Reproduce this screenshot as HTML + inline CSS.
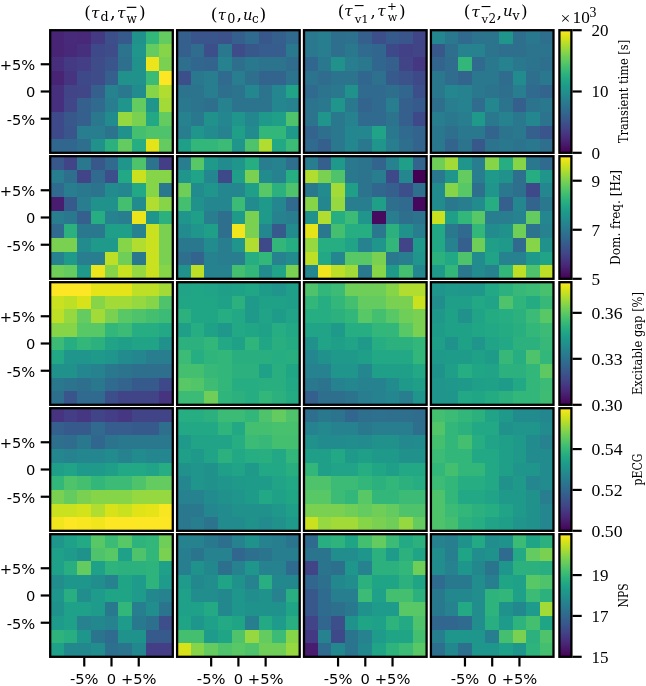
<!DOCTYPE html>
<html><head><meta charset="utf-8"><title>Sensitivity heatmaps</title>
<style>
html,body{margin:0;padding:0;background:#fff;}
body{width:646px;height:686px;overflow:hidden;}
svg{display:block;}
.sans{font-family:"DejaVu Sans","Liberation Sans",sans-serif;font-size:14.7px;fill:#000;}
.dserif{font-family:"DejaVu Serif","Liberation Serif",serif;fill:#000;}
.dcond{font-family:"DejaVu Serif Condensed","DejaVu Serif","Liberation Serif",serif;font-stretch:condensed;fill:#000;}
.serif{font-family:"Liberation Serif","DejaVu Serif",serif;fill:#000;}
</style></head><body>
<svg width="646" height="686" viewBox="0 0 646 686">
<defs><linearGradient id="vir" x1="0" y1="1" x2="0" y2="0"><stop offset="0.00" stop-color="#440154"/><stop offset="0.05" stop-color="#471365"/><stop offset="0.10" stop-color="#482475"/><stop offset="0.15" stop-color="#463480"/><stop offset="0.20" stop-color="#414487"/><stop offset="0.25" stop-color="#3b528b"/><stop offset="0.30" stop-color="#355f8d"/><stop offset="0.35" stop-color="#2f6c8e"/><stop offset="0.40" stop-color="#2a788e"/><stop offset="0.45" stop-color="#25848e"/><stop offset="0.50" stop-color="#21918c"/><stop offset="0.55" stop-color="#1e9c89"/><stop offset="0.60" stop-color="#22a884"/><stop offset="0.65" stop-color="#2fb47c"/><stop offset="0.70" stop-color="#44bf70"/><stop offset="0.75" stop-color="#5ec962"/><stop offset="0.80" stop-color="#7ad151"/><stop offset="0.85" stop-color="#9bd93c"/><stop offset="0.90" stop-color="#bddf26"/><stop offset="0.95" stop-color="#dfe318"/><stop offset="1.00" stop-color="#fde725"/></linearGradient></defs>
<rect x="0" y="0" width="646" height="686" fill="#fff"/>
<g shape-rendering="crispEdges"><rect x="50.20" y="30.20" width="13.92" height="13.92" fill="#482475"/><rect x="63.82" y="30.20" width="13.92" height="13.92" fill="#472a7a"/><rect x="77.44" y="30.20" width="13.92" height="13.92" fill="#482878"/><rect x="91.07" y="30.20" width="13.92" height="13.92" fill="#443a83"/><rect x="104.69" y="30.20" width="13.92" height="13.92" fill="#3c4f8a"/><rect x="118.31" y="30.20" width="13.92" height="13.92" fill="#375a8c"/><rect x="131.93" y="30.20" width="13.92" height="13.92" fill="#21918c"/><rect x="145.56" y="30.20" width="13.92" height="13.92" fill="#32b67a"/><rect x="159.18" y="30.20" width="13.92" height="13.92" fill="#63cb5f"/><rect x="50.20" y="43.82" width="13.92" height="13.92" fill="#482475"/><rect x="63.82" y="43.82" width="13.92" height="13.92" fill="#482878"/><rect x="77.44" y="43.82" width="13.92" height="13.92" fill="#46307e"/><rect x="91.07" y="43.82" width="13.92" height="13.92" fill="#3e4989"/><rect x="104.69" y="43.82" width="13.92" height="13.92" fill="#3e4c8a"/><rect x="118.31" y="43.82" width="13.92" height="13.92" fill="#2c738e"/><rect x="131.93" y="43.82" width="13.92" height="13.92" fill="#1f958b"/><rect x="145.56" y="43.82" width="13.92" height="13.92" fill="#63cb5f"/><rect x="159.18" y="43.82" width="13.92" height="13.92" fill="#86d549"/><rect x="50.20" y="57.44" width="13.92" height="13.92" fill="#472e7c"/><rect x="63.82" y="57.44" width="13.92" height="13.92" fill="#443a83"/><rect x="77.44" y="57.44" width="13.92" height="13.92" fill="#433e85"/><rect x="91.07" y="57.44" width="13.92" height="13.92" fill="#3e4c8a"/><rect x="104.69" y="57.44" width="13.92" height="13.92" fill="#3a548c"/><rect x="118.31" y="57.44" width="13.92" height="13.92" fill="#2e6f8e"/><rect x="131.93" y="57.44" width="13.92" height="13.92" fill="#21918c"/><rect x="145.56" y="57.44" width="13.92" height="13.92" fill="#ece51b"/><rect x="159.18" y="57.44" width="13.92" height="13.92" fill="#7ad151"/><rect x="50.20" y="71.07" width="13.92" height="13.92" fill="#482475"/><rect x="63.82" y="71.07" width="13.92" height="13.92" fill="#463480"/><rect x="77.44" y="71.07" width="13.92" height="13.92" fill="#3e4989"/><rect x="91.07" y="71.07" width="13.92" height="13.92" fill="#3e4c8a"/><rect x="104.69" y="71.07" width="13.92" height="13.92" fill="#355f8d"/><rect x="118.31" y="71.07" width="13.92" height="13.92" fill="#21918c"/><rect x="131.93" y="71.07" width="13.92" height="13.92" fill="#21918c"/><rect x="145.56" y="71.07" width="13.92" height="13.92" fill="#3bbb75"/><rect x="159.18" y="71.07" width="13.92" height="13.92" fill="#fde725"/><rect x="50.20" y="84.69" width="13.92" height="13.92" fill="#46307e"/><rect x="63.82" y="84.69" width="13.92" height="13.92" fill="#414487"/><rect x="77.44" y="84.69" width="13.92" height="13.92" fill="#404688"/><rect x="91.07" y="84.69" width="13.92" height="13.92" fill="#355f8d"/><rect x="104.69" y="84.69" width="13.92" height="13.92" fill="#26828e"/><rect x="118.31" y="84.69" width="13.92" height="13.92" fill="#2a788e"/><rect x="131.93" y="84.69" width="13.92" height="13.92" fill="#228b8d"/><rect x="145.56" y="84.69" width="13.92" height="13.92" fill="#86d549"/><rect x="159.18" y="84.69" width="13.92" height="13.92" fill="#b0dd2f"/><rect x="50.20" y="98.31" width="13.92" height="13.92" fill="#46307e"/><rect x="63.82" y="98.31" width="13.92" height="13.92" fill="#404688"/><rect x="77.44" y="98.31" width="13.92" height="13.92" fill="#355f8d"/><rect x="91.07" y="98.31" width="13.92" height="13.92" fill="#306a8e"/><rect x="104.69" y="98.31" width="13.92" height="13.92" fill="#287d8e"/><rect x="118.31" y="98.31" width="13.92" height="13.92" fill="#1f958b"/><rect x="131.93" y="98.31" width="13.92" height="13.92" fill="#63cb5f"/><rect x="145.56" y="98.31" width="13.92" height="13.92" fill="#1f958b"/><rect x="159.18" y="98.31" width="13.92" height="13.92" fill="#a2da37"/><rect x="50.20" y="111.93" width="13.92" height="13.92" fill="#3e4989"/><rect x="63.82" y="111.93" width="13.92" height="13.92" fill="#38588c"/><rect x="77.44" y="111.93" width="13.92" height="13.92" fill="#355f8d"/><rect x="91.07" y="111.93" width="13.92" height="13.92" fill="#2a788e"/><rect x="104.69" y="111.93" width="13.92" height="13.92" fill="#228b8d"/><rect x="118.31" y="111.93" width="13.92" height="13.92" fill="#95d840"/><rect x="131.93" y="111.93" width="13.92" height="13.92" fill="#7ad151"/><rect x="145.56" y="111.93" width="13.92" height="13.92" fill="#22a884"/><rect x="159.18" y="111.93" width="13.92" height="13.92" fill="#63cb5f"/><rect x="50.20" y="125.56" width="13.92" height="13.92" fill="#3e4989"/><rect x="63.82" y="125.56" width="13.92" height="13.92" fill="#3a548c"/><rect x="77.44" y="125.56" width="13.92" height="13.92" fill="#287d8e"/><rect x="91.07" y="125.56" width="13.92" height="13.92" fill="#287d8e"/><rect x="104.69" y="125.56" width="13.92" height="13.92" fill="#2c738e"/><rect x="118.31" y="125.56" width="13.92" height="13.92" fill="#21918c"/><rect x="131.93" y="125.56" width="13.92" height="13.92" fill="#44bf70"/><rect x="145.56" y="125.56" width="13.92" height="13.92" fill="#4ec36b"/><rect x="159.18" y="125.56" width="13.92" height="13.92" fill="#4ec36b"/><rect x="50.20" y="139.18" width="13.92" height="13.92" fill="#31678e"/><rect x="63.82" y="139.18" width="13.92" height="13.92" fill="#31678e"/><rect x="77.44" y="139.18" width="13.92" height="13.92" fill="#2e6f8e"/><rect x="91.07" y="139.18" width="13.92" height="13.92" fill="#21918c"/><rect x="104.69" y="139.18" width="13.92" height="13.92" fill="#2cb17e"/><rect x="118.31" y="139.18" width="13.92" height="13.92" fill="#63cb5f"/><rect x="131.93" y="139.18" width="13.92" height="13.92" fill="#26ad81"/><rect x="145.56" y="139.18" width="13.92" height="13.92" fill="#e5e419"/><rect x="159.18" y="139.18" width="13.92" height="13.92" fill="#63cb5f"/></g>
<rect x="50.20" y="30.20" width="122.60" height="122.60" fill="none" stroke="#000" stroke-width="2.3"/>
<line x1="49.20" y1="64.26" x2="40.70" y2="64.26" stroke="#000" stroke-width="2.2"/><line x1="49.20" y1="91.50" x2="40.70" y2="91.50" stroke="#000" stroke-width="2.2"/><line x1="49.20" y1="118.74" x2="40.70" y2="118.74" stroke="#000" stroke-width="2.2"/><g shape-rendering="crispEdges"><rect x="177.10" y="30.20" width="13.92" height="13.92" fill="#355f8d"/><rect x="190.72" y="30.20" width="13.92" height="13.92" fill="#3a548c"/><rect x="204.34" y="30.20" width="13.92" height="13.92" fill="#3a548c"/><rect x="217.97" y="30.20" width="13.92" height="13.92" fill="#3b528b"/><rect x="231.59" y="30.20" width="13.92" height="13.92" fill="#355f8d"/><rect x="245.21" y="30.20" width="13.92" height="13.92" fill="#306a8e"/><rect x="258.83" y="30.20" width="13.92" height="13.92" fill="#38588c"/><rect x="272.46" y="30.20" width="13.92" height="13.92" fill="#355f8d"/><rect x="286.08" y="30.20" width="13.92" height="13.92" fill="#306a8e"/><rect x="177.10" y="43.82" width="13.92" height="13.92" fill="#355f8d"/><rect x="190.72" y="43.82" width="13.92" height="13.92" fill="#2f6c8e"/><rect x="204.34" y="43.82" width="13.92" height="13.92" fill="#3c4f8a"/><rect x="217.97" y="43.82" width="13.92" height="13.92" fill="#2a788e"/><rect x="231.59" y="43.82" width="13.92" height="13.92" fill="#3e4c8a"/><rect x="245.21" y="43.82" width="13.92" height="13.92" fill="#38588c"/><rect x="258.83" y="43.82" width="13.92" height="13.92" fill="#365d8d"/><rect x="272.46" y="43.82" width="13.92" height="13.92" fill="#365d8d"/><rect x="286.08" y="43.82" width="13.92" height="13.92" fill="#2a788e"/><rect x="177.10" y="57.44" width="13.92" height="13.92" fill="#2e6f8e"/><rect x="190.72" y="57.44" width="13.92" height="13.92" fill="#31678e"/><rect x="204.34" y="57.44" width="13.92" height="13.92" fill="#32648e"/><rect x="217.97" y="57.44" width="13.92" height="13.92" fill="#26828e"/><rect x="231.59" y="57.44" width="13.92" height="13.92" fill="#2e6f8e"/><rect x="245.21" y="57.44" width="13.92" height="13.92" fill="#2a788e"/><rect x="258.83" y="57.44" width="13.92" height="13.92" fill="#2c738e"/><rect x="272.46" y="57.44" width="13.92" height="13.92" fill="#2c738e"/><rect x="286.08" y="57.44" width="13.92" height="13.92" fill="#2f6c8e"/><rect x="177.10" y="71.07" width="13.92" height="13.92" fill="#3c4f8a"/><rect x="190.72" y="71.07" width="13.92" height="13.92" fill="#2a788e"/><rect x="204.34" y="71.07" width="13.92" height="13.92" fill="#287d8e"/><rect x="217.97" y="71.07" width="13.92" height="13.92" fill="#306a8e"/><rect x="231.59" y="71.07" width="13.92" height="13.92" fill="#287d8e"/><rect x="245.21" y="71.07" width="13.92" height="13.92" fill="#2e6f8e"/><rect x="258.83" y="71.07" width="13.92" height="13.92" fill="#32648e"/><rect x="272.46" y="71.07" width="13.92" height="13.92" fill="#32648e"/><rect x="286.08" y="71.07" width="13.92" height="13.92" fill="#2c738e"/><rect x="177.10" y="84.69" width="13.92" height="13.92" fill="#2c738e"/><rect x="190.72" y="84.69" width="13.92" height="13.92" fill="#2c738e"/><rect x="204.34" y="84.69" width="13.92" height="13.92" fill="#287d8e"/><rect x="217.97" y="84.69" width="13.92" height="13.92" fill="#2e6f8e"/><rect x="231.59" y="84.69" width="13.92" height="13.92" fill="#2c738e"/><rect x="245.21" y="84.69" width="13.92" height="13.92" fill="#24868e"/><rect x="258.83" y="84.69" width="13.92" height="13.92" fill="#2c738e"/><rect x="272.46" y="84.69" width="13.92" height="13.92" fill="#24868e"/><rect x="286.08" y="84.69" width="13.92" height="13.92" fill="#20a386"/><rect x="177.10" y="98.31" width="13.92" height="13.92" fill="#2a788e"/><rect x="190.72" y="98.31" width="13.92" height="13.92" fill="#2c738e"/><rect x="204.34" y="98.31" width="13.92" height="13.92" fill="#2e6f8e"/><rect x="217.97" y="98.31" width="13.92" height="13.92" fill="#26828e"/><rect x="231.59" y="98.31" width="13.92" height="13.92" fill="#2c738e"/><rect x="245.21" y="98.31" width="13.92" height="13.92" fill="#2c738e"/><rect x="258.83" y="98.31" width="13.92" height="13.92" fill="#2c738e"/><rect x="272.46" y="98.31" width="13.92" height="13.92" fill="#24868e"/><rect x="286.08" y="98.31" width="13.92" height="13.92" fill="#26828e"/><rect x="177.10" y="111.93" width="13.92" height="13.92" fill="#26828e"/><rect x="190.72" y="111.93" width="13.92" height="13.92" fill="#2a788e"/><rect x="204.34" y="111.93" width="13.92" height="13.92" fill="#21918c"/><rect x="217.97" y="111.93" width="13.92" height="13.92" fill="#24868e"/><rect x="231.59" y="111.93" width="13.92" height="13.92" fill="#1f958b"/><rect x="245.21" y="111.93" width="13.92" height="13.92" fill="#24868e"/><rect x="258.83" y="111.93" width="13.92" height="13.92" fill="#1f9a8a"/><rect x="272.46" y="111.93" width="13.92" height="13.92" fill="#1f9f88"/><rect x="286.08" y="111.93" width="13.92" height="13.92" fill="#4ec36b"/><rect x="177.10" y="125.56" width="13.92" height="13.92" fill="#287d8e"/><rect x="190.72" y="125.56" width="13.92" height="13.92" fill="#1f958b"/><rect x="204.34" y="125.56" width="13.92" height="13.92" fill="#228b8d"/><rect x="217.97" y="125.56" width="13.92" height="13.92" fill="#26828e"/><rect x="231.59" y="125.56" width="13.92" height="13.92" fill="#1f9f88"/><rect x="245.21" y="125.56" width="13.92" height="13.92" fill="#228b8d"/><rect x="258.83" y="125.56" width="13.92" height="13.92" fill="#32b67a"/><rect x="272.46" y="125.56" width="13.92" height="13.92" fill="#32b67a"/><rect x="286.08" y="125.56" width="13.92" height="13.92" fill="#1f9a8a"/><rect x="177.10" y="139.18" width="13.92" height="13.92" fill="#1f9f88"/><rect x="190.72" y="139.18" width="13.92" height="13.92" fill="#32b67a"/><rect x="204.34" y="139.18" width="13.92" height="13.92" fill="#32b67a"/><rect x="217.97" y="139.18" width="13.92" height="13.92" fill="#3bbb75"/><rect x="231.59" y="139.18" width="13.92" height="13.92" fill="#1f958b"/><rect x="245.21" y="139.18" width="13.92" height="13.92" fill="#4ec36b"/><rect x="258.83" y="139.18" width="13.92" height="13.92" fill="#b0dd2f"/><rect x="272.46" y="139.18" width="13.92" height="13.92" fill="#22a884"/><rect x="286.08" y="139.18" width="13.92" height="13.92" fill="#3bbb75"/></g>
<rect x="177.10" y="30.20" width="122.60" height="122.60" fill="none" stroke="#000" stroke-width="2.3"/>
<g shape-rendering="crispEdges"><rect x="304.00" y="30.20" width="13.92" height="13.92" fill="#2a788e"/><rect x="317.62" y="30.20" width="13.92" height="13.92" fill="#287d8e"/><rect x="331.24" y="30.20" width="13.92" height="13.92" fill="#2e6f8e"/><rect x="344.87" y="30.20" width="13.92" height="13.92" fill="#2d718e"/><rect x="358.49" y="30.20" width="13.92" height="13.92" fill="#355f8d"/><rect x="372.11" y="30.20" width="13.92" height="13.92" fill="#3c4f8a"/><rect x="385.73" y="30.20" width="13.92" height="13.92" fill="#375a8c"/><rect x="399.36" y="30.20" width="13.92" height="13.92" fill="#3a548c"/><rect x="412.98" y="30.20" width="13.92" height="13.92" fill="#414487"/><rect x="304.00" y="43.82" width="13.92" height="13.92" fill="#2a788e"/><rect x="317.62" y="43.82" width="13.92" height="13.92" fill="#287d8e"/><rect x="331.24" y="43.82" width="13.92" height="13.92" fill="#2e6f8e"/><rect x="344.87" y="43.82" width="13.92" height="13.92" fill="#2a788e"/><rect x="358.49" y="43.82" width="13.92" height="13.92" fill="#306a8e"/><rect x="372.11" y="43.82" width="13.92" height="13.92" fill="#31678e"/><rect x="385.73" y="43.82" width="13.92" height="13.92" fill="#3e4989"/><rect x="399.36" y="43.82" width="13.92" height="13.92" fill="#424086"/><rect x="412.98" y="43.82" width="13.92" height="13.92" fill="#414487"/><rect x="304.00" y="57.44" width="13.92" height="13.92" fill="#31678e"/><rect x="317.62" y="57.44" width="13.92" height="13.92" fill="#2a788e"/><rect x="331.24" y="57.44" width="13.92" height="13.92" fill="#21918c"/><rect x="344.87" y="57.44" width="13.92" height="13.92" fill="#287d8e"/><rect x="358.49" y="57.44" width="13.92" height="13.92" fill="#2a788e"/><rect x="372.11" y="57.44" width="13.92" height="13.92" fill="#31678e"/><rect x="385.73" y="57.44" width="13.92" height="13.92" fill="#355f8d"/><rect x="399.36" y="57.44" width="13.92" height="13.92" fill="#414487"/><rect x="412.98" y="57.44" width="13.92" height="13.92" fill="#453781"/><rect x="304.00" y="71.07" width="13.92" height="13.92" fill="#2c738e"/><rect x="317.62" y="71.07" width="13.92" height="13.92" fill="#2f6c8e"/><rect x="331.24" y="71.07" width="13.92" height="13.92" fill="#2c738e"/><rect x="344.87" y="71.07" width="13.92" height="13.92" fill="#2c738e"/><rect x="358.49" y="71.07" width="13.92" height="13.92" fill="#31678e"/><rect x="372.11" y="71.07" width="13.92" height="13.92" fill="#2d718e"/><rect x="385.73" y="71.07" width="13.92" height="13.92" fill="#375a8c"/><rect x="399.36" y="71.07" width="13.92" height="13.92" fill="#3b528b"/><rect x="412.98" y="71.07" width="13.92" height="13.92" fill="#3e4989"/><rect x="304.00" y="84.69" width="13.92" height="13.92" fill="#306a8e"/><rect x="317.62" y="84.69" width="13.92" height="13.92" fill="#2c738e"/><rect x="331.24" y="84.69" width="13.92" height="13.92" fill="#2a788e"/><rect x="344.87" y="84.69" width="13.92" height="13.92" fill="#21918c"/><rect x="358.49" y="84.69" width="13.92" height="13.92" fill="#306a8e"/><rect x="372.11" y="84.69" width="13.92" height="13.92" fill="#306a8e"/><rect x="385.73" y="84.69" width="13.92" height="13.92" fill="#2e6f8e"/><rect x="399.36" y="84.69" width="13.92" height="13.92" fill="#31678e"/><rect x="412.98" y="84.69" width="13.92" height="13.92" fill="#3c4f8a"/><rect x="304.00" y="98.31" width="13.92" height="13.92" fill="#2c738e"/><rect x="317.62" y="98.31" width="13.92" height="13.92" fill="#2a788e"/><rect x="331.24" y="98.31" width="13.92" height="13.92" fill="#1f958b"/><rect x="344.87" y="98.31" width="13.92" height="13.92" fill="#2a788e"/><rect x="358.49" y="98.31" width="13.92" height="13.92" fill="#32648e"/><rect x="372.11" y="98.31" width="13.92" height="13.92" fill="#306a8e"/><rect x="385.73" y="98.31" width="13.92" height="13.92" fill="#287d8e"/><rect x="399.36" y="98.31" width="13.92" height="13.92" fill="#355f8d"/><rect x="412.98" y="98.31" width="13.92" height="13.92" fill="#375a8c"/><rect x="304.00" y="111.93" width="13.92" height="13.92" fill="#2c738e"/><rect x="317.62" y="111.93" width="13.92" height="13.92" fill="#1f958b"/><rect x="331.24" y="111.93" width="13.92" height="13.92" fill="#2a788e"/><rect x="344.87" y="111.93" width="13.92" height="13.92" fill="#26828e"/><rect x="358.49" y="111.93" width="13.92" height="13.92" fill="#306a8e"/><rect x="372.11" y="111.93" width="13.92" height="13.92" fill="#306a8e"/><rect x="385.73" y="111.93" width="13.92" height="13.92" fill="#2c738e"/><rect x="399.36" y="111.93" width="13.92" height="13.92" fill="#355f8d"/><rect x="412.98" y="111.93" width="13.92" height="13.92" fill="#3e4989"/><rect x="304.00" y="125.56" width="13.92" height="13.92" fill="#32648e"/><rect x="317.62" y="125.56" width="13.92" height="13.92" fill="#2e6f8e"/><rect x="331.24" y="125.56" width="13.92" height="13.92" fill="#2a788e"/><rect x="344.87" y="125.56" width="13.92" height="13.92" fill="#24868e"/><rect x="358.49" y="125.56" width="13.92" height="13.92" fill="#24868e"/><rect x="372.11" y="125.56" width="13.92" height="13.92" fill="#20a386"/><rect x="385.73" y="125.56" width="13.92" height="13.92" fill="#2a788e"/><rect x="399.36" y="125.56" width="13.92" height="13.92" fill="#306a8e"/><rect x="412.98" y="125.56" width="13.92" height="13.92" fill="#32648e"/><rect x="304.00" y="139.18" width="13.92" height="13.92" fill="#306a8e"/><rect x="317.62" y="139.18" width="13.92" height="13.92" fill="#355f8d"/><rect x="331.24" y="139.18" width="13.92" height="13.92" fill="#2a788e"/><rect x="344.87" y="139.18" width="13.92" height="13.92" fill="#24868e"/><rect x="358.49" y="139.18" width="13.92" height="13.92" fill="#2a788e"/><rect x="372.11" y="139.18" width="13.92" height="13.92" fill="#1f958b"/><rect x="385.73" y="139.18" width="13.92" height="13.92" fill="#287d8e"/><rect x="399.36" y="139.18" width="13.92" height="13.92" fill="#2e6f8e"/><rect x="412.98" y="139.18" width="13.92" height="13.92" fill="#32648e"/></g>
<rect x="304.00" y="30.20" width="122.60" height="122.60" fill="none" stroke="#000" stroke-width="2.3"/>
<g shape-rendering="crispEdges"><rect x="430.90" y="30.20" width="13.92" height="13.92" fill="#24868e"/><rect x="444.52" y="30.20" width="13.92" height="13.92" fill="#2a788e"/><rect x="458.14" y="30.20" width="13.92" height="13.92" fill="#306a8e"/><rect x="471.77" y="30.20" width="13.92" height="13.92" fill="#2c738e"/><rect x="485.39" y="30.20" width="13.92" height="13.92" fill="#2c738e"/><rect x="499.01" y="30.20" width="13.92" height="13.92" fill="#1f958b"/><rect x="512.63" y="30.20" width="13.92" height="13.92" fill="#2e6f8e"/><rect x="526.26" y="30.20" width="13.92" height="13.92" fill="#2a788e"/><rect x="539.88" y="30.20" width="13.92" height="13.92" fill="#2e6f8e"/><rect x="430.90" y="43.82" width="13.92" height="13.92" fill="#38588c"/><rect x="444.52" y="43.82" width="13.92" height="13.92" fill="#2e6f8e"/><rect x="458.14" y="43.82" width="13.92" height="13.92" fill="#26828e"/><rect x="471.77" y="43.82" width="13.92" height="13.92" fill="#26828e"/><rect x="485.39" y="43.82" width="13.92" height="13.92" fill="#2c738e"/><rect x="499.01" y="43.82" width="13.92" height="13.92" fill="#2e6f8e"/><rect x="512.63" y="43.82" width="13.92" height="13.92" fill="#2e6f8e"/><rect x="526.26" y="43.82" width="13.92" height="13.92" fill="#2c738e"/><rect x="539.88" y="43.82" width="13.92" height="13.92" fill="#2c738e"/><rect x="430.90" y="57.44" width="13.92" height="13.92" fill="#32648e"/><rect x="444.52" y="57.44" width="13.92" height="13.92" fill="#2f6c8e"/><rect x="458.14" y="57.44" width="13.92" height="13.92" fill="#32b67a"/><rect x="471.77" y="57.44" width="13.92" height="13.92" fill="#306a8e"/><rect x="485.39" y="57.44" width="13.92" height="13.92" fill="#2a788e"/><rect x="499.01" y="57.44" width="13.92" height="13.92" fill="#26828e"/><rect x="512.63" y="57.44" width="13.92" height="13.92" fill="#2a788e"/><rect x="526.26" y="57.44" width="13.92" height="13.92" fill="#2c738e"/><rect x="539.88" y="57.44" width="13.92" height="13.92" fill="#2e6f8e"/><rect x="430.90" y="71.07" width="13.92" height="13.92" fill="#2a788e"/><rect x="444.52" y="71.07" width="13.92" height="13.92" fill="#2f6c8e"/><rect x="458.14" y="71.07" width="13.92" height="13.92" fill="#32648e"/><rect x="471.77" y="71.07" width="13.92" height="13.92" fill="#2a788e"/><rect x="485.39" y="71.07" width="13.92" height="13.92" fill="#2a788e"/><rect x="499.01" y="71.07" width="13.92" height="13.92" fill="#2f6c8e"/><rect x="512.63" y="71.07" width="13.92" height="13.92" fill="#228b8d"/><rect x="526.26" y="71.07" width="13.92" height="13.92" fill="#2e6f8e"/><rect x="539.88" y="71.07" width="13.92" height="13.92" fill="#2a788e"/><rect x="430.90" y="84.69" width="13.92" height="13.92" fill="#2a788e"/><rect x="444.52" y="84.69" width="13.92" height="13.92" fill="#24868e"/><rect x="458.14" y="84.69" width="13.92" height="13.92" fill="#26828e"/><rect x="471.77" y="84.69" width="13.92" height="13.92" fill="#2a788e"/><rect x="485.39" y="84.69" width="13.92" height="13.92" fill="#2c738e"/><rect x="499.01" y="84.69" width="13.92" height="13.92" fill="#2e6f8e"/><rect x="512.63" y="84.69" width="13.92" height="13.92" fill="#287d8e"/><rect x="526.26" y="84.69" width="13.92" height="13.92" fill="#306a8e"/><rect x="539.88" y="84.69" width="13.92" height="13.92" fill="#32648e"/><rect x="430.90" y="98.31" width="13.92" height="13.92" fill="#2e6f8e"/><rect x="444.52" y="98.31" width="13.92" height="13.92" fill="#287d8e"/><rect x="458.14" y="98.31" width="13.92" height="13.92" fill="#26828e"/><rect x="471.77" y="98.31" width="13.92" height="13.92" fill="#2f6c8e"/><rect x="485.39" y="98.31" width="13.92" height="13.92" fill="#24868e"/><rect x="499.01" y="98.31" width="13.92" height="13.92" fill="#2c738e"/><rect x="512.63" y="98.31" width="13.92" height="13.92" fill="#355f8d"/><rect x="526.26" y="98.31" width="13.92" height="13.92" fill="#2c738e"/><rect x="539.88" y="98.31" width="13.92" height="13.92" fill="#2a788e"/><rect x="430.90" y="111.93" width="13.92" height="13.92" fill="#287d8e"/><rect x="444.52" y="111.93" width="13.92" height="13.92" fill="#2a788e"/><rect x="458.14" y="111.93" width="13.92" height="13.92" fill="#287d8e"/><rect x="471.77" y="111.93" width="13.92" height="13.92" fill="#1f9a8a"/><rect x="485.39" y="111.93" width="13.92" height="13.92" fill="#2a788e"/><rect x="499.01" y="111.93" width="13.92" height="13.92" fill="#26828e"/><rect x="512.63" y="111.93" width="13.92" height="13.92" fill="#2a788e"/><rect x="526.26" y="111.93" width="13.92" height="13.92" fill="#24868e"/><rect x="539.88" y="111.93" width="13.92" height="13.92" fill="#2c738e"/><rect x="430.90" y="125.56" width="13.92" height="13.92" fill="#2a788e"/><rect x="444.52" y="125.56" width="13.92" height="13.92" fill="#2e6f8e"/><rect x="458.14" y="125.56" width="13.92" height="13.92" fill="#2a788e"/><rect x="471.77" y="125.56" width="13.92" height="13.92" fill="#2a788e"/><rect x="485.39" y="125.56" width="13.92" height="13.92" fill="#32648e"/><rect x="499.01" y="125.56" width="13.92" height="13.92" fill="#2c738e"/><rect x="512.63" y="125.56" width="13.92" height="13.92" fill="#2a788e"/><rect x="526.26" y="125.56" width="13.92" height="13.92" fill="#355f8d"/><rect x="539.88" y="125.56" width="13.92" height="13.92" fill="#3a548c"/><rect x="430.90" y="139.18" width="13.92" height="13.92" fill="#2a788e"/><rect x="444.52" y="139.18" width="13.92" height="13.92" fill="#32648e"/><rect x="458.14" y="139.18" width="13.92" height="13.92" fill="#2c738e"/><rect x="471.77" y="139.18" width="13.92" height="13.92" fill="#38588c"/><rect x="485.39" y="139.18" width="13.92" height="13.92" fill="#2c738e"/><rect x="499.01" y="139.18" width="13.92" height="13.92" fill="#2a788e"/><rect x="512.63" y="139.18" width="13.92" height="13.92" fill="#2c738e"/><rect x="526.26" y="139.18" width="13.92" height="13.92" fill="#2a788e"/><rect x="539.88" y="139.18" width="13.92" height="13.92" fill="#2e6f8e"/></g>
<rect x="430.90" y="30.20" width="122.60" height="122.60" fill="none" stroke="#000" stroke-width="2.3"/>
<rect x="559.40" y="30.20" width="12.00" height="122.60" fill="url(#vir)" stroke="#000" stroke-width="2.3"/>
<g shape-rendering="crispEdges"><rect x="50.20" y="156.20" width="13.92" height="13.92" fill="#38588c"/><rect x="63.82" y="156.20" width="13.92" height="13.92" fill="#414487"/><rect x="77.44" y="156.20" width="13.92" height="13.92" fill="#2a788e"/><rect x="91.07" y="156.20" width="13.92" height="13.92" fill="#38588c"/><rect x="104.69" y="156.20" width="13.92" height="13.92" fill="#306a8e"/><rect x="118.31" y="156.20" width="13.92" height="13.92" fill="#1f958b"/><rect x="131.93" y="156.20" width="13.92" height="13.92" fill="#4ec36b"/><rect x="145.56" y="156.20" width="13.92" height="13.92" fill="#2c738e"/><rect x="159.18" y="156.20" width="13.92" height="13.92" fill="#433e85"/><rect x="50.20" y="169.82" width="13.92" height="13.92" fill="#287d8e"/><rect x="63.82" y="169.82" width="13.92" height="13.92" fill="#2e6f8e"/><rect x="77.44" y="169.82" width="13.92" height="13.92" fill="#414487"/><rect x="91.07" y="169.82" width="13.92" height="13.92" fill="#306a8e"/><rect x="104.69" y="169.82" width="13.92" height="13.92" fill="#3c4f8a"/><rect x="118.31" y="169.82" width="13.92" height="13.92" fill="#22a884"/><rect x="131.93" y="169.82" width="13.92" height="13.92" fill="#cae11f"/><rect x="145.56" y="169.82" width="13.92" height="13.92" fill="#86d549"/><rect x="159.18" y="169.82" width="13.92" height="13.92" fill="#86d549"/><rect x="50.20" y="183.44" width="13.92" height="13.92" fill="#306a8e"/><rect x="63.82" y="183.44" width="13.92" height="13.92" fill="#287d8e"/><rect x="77.44" y="183.44" width="13.92" height="13.92" fill="#2a788e"/><rect x="91.07" y="183.44" width="13.92" height="13.92" fill="#2c738e"/><rect x="104.69" y="183.44" width="13.92" height="13.92" fill="#228b8d"/><rect x="118.31" y="183.44" width="13.92" height="13.92" fill="#24868e"/><rect x="131.93" y="183.44" width="13.92" height="13.92" fill="#22a884"/><rect x="145.56" y="183.44" width="13.92" height="13.92" fill="#86d549"/><rect x="159.18" y="183.44" width="13.92" height="13.92" fill="#2a788e"/><rect x="50.20" y="197.07" width="13.92" height="13.92" fill="#481d6f"/><rect x="63.82" y="197.07" width="13.92" height="13.92" fill="#375a8c"/><rect x="77.44" y="197.07" width="13.92" height="13.92" fill="#287d8e"/><rect x="91.07" y="197.07" width="13.92" height="13.92" fill="#21918c"/><rect x="104.69" y="197.07" width="13.92" height="13.92" fill="#21918c"/><rect x="118.31" y="197.07" width="13.92" height="13.92" fill="#44bf70"/><rect x="131.93" y="197.07" width="13.92" height="13.92" fill="#228b8d"/><rect x="145.56" y="197.07" width="13.92" height="13.92" fill="#b0dd2f"/><rect x="159.18" y="197.07" width="13.92" height="13.92" fill="#86d549"/><rect x="50.20" y="210.69" width="13.92" height="13.92" fill="#287d8e"/><rect x="63.82" y="210.69" width="13.92" height="13.92" fill="#2a788e"/><rect x="77.44" y="210.69" width="13.92" height="13.92" fill="#355f8d"/><rect x="91.07" y="210.69" width="13.92" height="13.92" fill="#26ad81"/><rect x="104.69" y="210.69" width="13.92" height="13.92" fill="#26828e"/><rect x="118.31" y="210.69" width="13.92" height="13.92" fill="#287d8e"/><rect x="131.93" y="210.69" width="13.92" height="13.92" fill="#ece51b"/><rect x="145.56" y="210.69" width="13.92" height="13.92" fill="#1f958b"/><rect x="159.18" y="210.69" width="13.92" height="13.92" fill="#2cb17e"/><rect x="50.20" y="224.31" width="13.92" height="13.92" fill="#306a8e"/><rect x="63.82" y="224.31" width="13.92" height="13.92" fill="#2cb17e"/><rect x="77.44" y="224.31" width="13.92" height="13.92" fill="#2a788e"/><rect x="91.07" y="224.31" width="13.92" height="13.92" fill="#2a788e"/><rect x="104.69" y="224.31" width="13.92" height="13.92" fill="#1f9f88"/><rect x="118.31" y="224.31" width="13.92" height="13.92" fill="#1f9f88"/><rect x="131.93" y="224.31" width="13.92" height="13.92" fill="#26828e"/><rect x="145.56" y="224.31" width="13.92" height="13.92" fill="#cae11f"/><rect x="159.18" y="224.31" width="13.92" height="13.92" fill="#7ad151"/><rect x="50.20" y="237.93" width="13.92" height="13.92" fill="#7ad151"/><rect x="63.82" y="237.93" width="13.92" height="13.92" fill="#7ad151"/><rect x="77.44" y="237.93" width="13.92" height="13.92" fill="#228b8d"/><rect x="91.07" y="237.93" width="13.92" height="13.92" fill="#1f9a8a"/><rect x="104.69" y="237.93" width="13.92" height="13.92" fill="#1f9a8a"/><rect x="118.31" y="237.93" width="13.92" height="13.92" fill="#86d549"/><rect x="131.93" y="237.93" width="13.92" height="13.92" fill="#b0dd2f"/><rect x="145.56" y="237.93" width="13.92" height="13.92" fill="#cae11f"/><rect x="159.18" y="237.93" width="13.92" height="13.92" fill="#7ad151"/><rect x="50.20" y="251.56" width="13.92" height="13.92" fill="#26828e"/><rect x="63.82" y="251.56" width="13.92" height="13.92" fill="#1f9a8a"/><rect x="77.44" y="251.56" width="13.92" height="13.92" fill="#287d8e"/><rect x="91.07" y="251.56" width="13.92" height="13.92" fill="#287d8e"/><rect x="104.69" y="251.56" width="13.92" height="13.92" fill="#bddf26"/><rect x="118.31" y="251.56" width="13.92" height="13.92" fill="#6ece58"/><rect x="131.93" y="251.56" width="13.92" height="13.92" fill="#2a788e"/><rect x="145.56" y="251.56" width="13.92" height="13.92" fill="#cae11f"/><rect x="159.18" y="251.56" width="13.92" height="13.92" fill="#7ad151"/><rect x="50.20" y="265.18" width="13.92" height="13.92" fill="#6ece58"/><rect x="63.82" y="265.18" width="13.92" height="13.92" fill="#63cb5f"/><rect x="77.44" y="265.18" width="13.92" height="13.92" fill="#1f9a8a"/><rect x="91.07" y="265.18" width="13.92" height="13.92" fill="#ece51b"/><rect x="104.69" y="265.18" width="13.92" height="13.92" fill="#86d549"/><rect x="118.31" y="265.18" width="13.92" height="13.92" fill="#cae11f"/><rect x="131.93" y="265.18" width="13.92" height="13.92" fill="#95d840"/><rect x="145.56" y="265.18" width="13.92" height="13.92" fill="#cae11f"/><rect x="159.18" y="265.18" width="13.92" height="13.92" fill="#86d549"/></g>
<rect x="50.20" y="156.20" width="122.60" height="122.60" fill="none" stroke="#000" stroke-width="2.3"/>
<line x1="49.20" y1="190.26" x2="40.70" y2="190.26" stroke="#000" stroke-width="2.2"/><line x1="49.20" y1="217.50" x2="40.70" y2="217.50" stroke="#000" stroke-width="2.2"/><line x1="49.20" y1="244.74" x2="40.70" y2="244.74" stroke="#000" stroke-width="2.2"/><g shape-rendering="crispEdges"><rect x="177.10" y="156.20" width="13.92" height="13.92" fill="#287d8e"/><rect x="190.72" y="156.20" width="13.92" height="13.92" fill="#58c765"/><rect x="204.34" y="156.20" width="13.92" height="13.92" fill="#1f9a8a"/><rect x="217.97" y="156.20" width="13.92" height="13.92" fill="#228b8d"/><rect x="231.59" y="156.20" width="13.92" height="13.92" fill="#1f958b"/><rect x="245.21" y="156.20" width="13.92" height="13.92" fill="#26ad81"/><rect x="258.83" y="156.20" width="13.92" height="13.92" fill="#287d8e"/><rect x="272.46" y="156.20" width="13.92" height="13.92" fill="#26828e"/><rect x="286.08" y="156.20" width="13.92" height="13.92" fill="#2e6f8e"/><rect x="177.10" y="169.82" width="13.92" height="13.92" fill="#1f958b"/><rect x="190.72" y="169.82" width="13.92" height="13.92" fill="#20a386"/><rect x="204.34" y="169.82" width="13.92" height="13.92" fill="#24868e"/><rect x="217.97" y="169.82" width="13.92" height="13.92" fill="#3e4989"/><rect x="231.59" y="169.82" width="13.92" height="13.92" fill="#1f9f88"/><rect x="245.21" y="169.82" width="13.92" height="13.92" fill="#7ad151"/><rect x="258.83" y="169.82" width="13.92" height="13.92" fill="#228b8d"/><rect x="272.46" y="169.82" width="13.92" height="13.92" fill="#26828e"/><rect x="286.08" y="169.82" width="13.92" height="13.92" fill="#26ad81"/><rect x="177.10" y="183.44" width="13.92" height="13.92" fill="#6ece58"/><rect x="190.72" y="183.44" width="13.92" height="13.92" fill="#228b8d"/><rect x="204.34" y="183.44" width="13.92" height="13.92" fill="#1f958b"/><rect x="217.97" y="183.44" width="13.92" height="13.92" fill="#24868e"/><rect x="231.59" y="183.44" width="13.92" height="13.92" fill="#24868e"/><rect x="245.21" y="183.44" width="13.92" height="13.92" fill="#1f9f88"/><rect x="258.83" y="183.44" width="13.92" height="13.92" fill="#58c765"/><rect x="272.46" y="183.44" width="13.92" height="13.92" fill="#2cb17e"/><rect x="286.08" y="183.44" width="13.92" height="13.92" fill="#4ec36b"/><rect x="177.10" y="197.07" width="13.92" height="13.92" fill="#44bf70"/><rect x="190.72" y="197.07" width="13.92" height="13.92" fill="#21918c"/><rect x="204.34" y="197.07" width="13.92" height="13.92" fill="#24868e"/><rect x="217.97" y="197.07" width="13.92" height="13.92" fill="#24868e"/><rect x="231.59" y="197.07" width="13.92" height="13.92" fill="#3bbb75"/><rect x="245.21" y="197.07" width="13.92" height="13.92" fill="#228b8d"/><rect x="258.83" y="197.07" width="13.92" height="13.92" fill="#1f9a8a"/><rect x="272.46" y="197.07" width="13.92" height="13.92" fill="#24868e"/><rect x="286.08" y="197.07" width="13.92" height="13.92" fill="#306a8e"/><rect x="177.10" y="210.69" width="13.92" height="13.92" fill="#1f958b"/><rect x="190.72" y="210.69" width="13.92" height="13.92" fill="#1f9f88"/><rect x="204.34" y="210.69" width="13.92" height="13.92" fill="#287d8e"/><rect x="217.97" y="210.69" width="13.92" height="13.92" fill="#2e6f8e"/><rect x="231.59" y="210.69" width="13.92" height="13.92" fill="#1f9a8a"/><rect x="245.21" y="210.69" width="13.92" height="13.92" fill="#7ad151"/><rect x="258.83" y="210.69" width="13.92" height="13.92" fill="#1f9a8a"/><rect x="272.46" y="210.69" width="13.92" height="13.92" fill="#26828e"/><rect x="286.08" y="210.69" width="13.92" height="13.92" fill="#287d8e"/><rect x="177.10" y="224.31" width="13.92" height="13.92" fill="#228b8d"/><rect x="190.72" y="224.31" width="13.92" height="13.92" fill="#1f958b"/><rect x="204.34" y="224.31" width="13.92" height="13.92" fill="#1f9f88"/><rect x="217.97" y="224.31" width="13.92" height="13.92" fill="#2e6f8e"/><rect x="231.59" y="224.31" width="13.92" height="13.92" fill="#f1e51d"/><rect x="245.21" y="224.31" width="13.92" height="13.92" fill="#7ad151"/><rect x="258.83" y="224.31" width="13.92" height="13.92" fill="#24868e"/><rect x="272.46" y="224.31" width="13.92" height="13.92" fill="#375a8c"/><rect x="286.08" y="224.31" width="13.92" height="13.92" fill="#228b8d"/><rect x="177.10" y="237.93" width="13.92" height="13.92" fill="#2a788e"/><rect x="190.72" y="237.93" width="13.92" height="13.92" fill="#2a788e"/><rect x="204.34" y="237.93" width="13.92" height="13.92" fill="#228b8d"/><rect x="217.97" y="237.93" width="13.92" height="13.92" fill="#287d8e"/><rect x="231.59" y="237.93" width="13.92" height="13.92" fill="#1f958b"/><rect x="245.21" y="237.93" width="13.92" height="13.92" fill="#b0dd2f"/><rect x="258.83" y="237.93" width="13.92" height="13.92" fill="#3e4989"/><rect x="272.46" y="237.93" width="13.92" height="13.92" fill="#32b67a"/><rect x="286.08" y="237.93" width="13.92" height="13.92" fill="#26ad81"/><rect x="177.10" y="251.56" width="13.92" height="13.92" fill="#2e6f8e"/><rect x="190.72" y="251.56" width="13.92" height="13.92" fill="#32648e"/><rect x="204.34" y="251.56" width="13.92" height="13.92" fill="#26828e"/><rect x="217.97" y="251.56" width="13.92" height="13.92" fill="#287d8e"/><rect x="231.59" y="251.56" width="13.92" height="13.92" fill="#287d8e"/><rect x="245.21" y="251.56" width="13.92" height="13.92" fill="#26ad81"/><rect x="258.83" y="251.56" width="13.92" height="13.92" fill="#32b67a"/><rect x="272.46" y="251.56" width="13.92" height="13.92" fill="#26828e"/><rect x="286.08" y="251.56" width="13.92" height="13.92" fill="#228b8d"/><rect x="177.10" y="265.18" width="13.92" height="13.92" fill="#21918c"/><rect x="190.72" y="265.18" width="13.92" height="13.92" fill="#bddf26"/><rect x="204.34" y="265.18" width="13.92" height="13.92" fill="#26828e"/><rect x="217.97" y="265.18" width="13.92" height="13.92" fill="#26828e"/><rect x="231.59" y="265.18" width="13.92" height="13.92" fill="#44bf70"/><rect x="245.21" y="265.18" width="13.92" height="13.92" fill="#32b67a"/><rect x="258.83" y="265.18" width="13.92" height="13.92" fill="#228b8d"/><rect x="272.46" y="265.18" width="13.92" height="13.92" fill="#20a386"/><rect x="286.08" y="265.18" width="13.92" height="13.92" fill="#7ad151"/></g>
<rect x="177.10" y="156.20" width="122.60" height="122.60" fill="none" stroke="#000" stroke-width="2.3"/>
<g shape-rendering="crispEdges"><rect x="304.00" y="156.20" width="13.92" height="13.92" fill="#287d8e"/><rect x="317.62" y="156.20" width="13.92" height="13.92" fill="#355f8d"/><rect x="331.24" y="156.20" width="13.92" height="13.92" fill="#1f9a8a"/><rect x="344.87" y="156.20" width="13.92" height="13.92" fill="#2a788e"/><rect x="358.49" y="156.20" width="13.92" height="13.92" fill="#2c738e"/><rect x="372.11" y="156.20" width="13.92" height="13.92" fill="#32648e"/><rect x="385.73" y="156.20" width="13.92" height="13.92" fill="#26828e"/><rect x="399.36" y="156.20" width="13.92" height="13.92" fill="#1f9f88"/><rect x="412.98" y="156.20" width="13.92" height="13.92" fill="#32648e"/><rect x="304.00" y="169.82" width="13.92" height="13.92" fill="#b0dd2f"/><rect x="317.62" y="169.82" width="13.92" height="13.92" fill="#7ad151"/><rect x="331.24" y="169.82" width="13.92" height="13.92" fill="#4ec36b"/><rect x="344.87" y="169.82" width="13.92" height="13.92" fill="#2a788e"/><rect x="358.49" y="169.82" width="13.92" height="13.92" fill="#2c738e"/><rect x="372.11" y="169.82" width="13.92" height="13.92" fill="#287d8e"/><rect x="385.73" y="169.82" width="13.92" height="13.92" fill="#3e4989"/><rect x="399.36" y="169.82" width="13.92" height="13.92" fill="#24868e"/><rect x="412.98" y="169.82" width="13.92" height="13.92" fill="#440154"/><rect x="304.00" y="183.44" width="13.92" height="13.92" fill="#2a788e"/><rect x="317.62" y="183.44" width="13.92" height="13.92" fill="#228b8d"/><rect x="331.24" y="183.44" width="13.92" height="13.92" fill="#a2da37"/><rect x="344.87" y="183.44" width="13.92" height="13.92" fill="#1f9f88"/><rect x="358.49" y="183.44" width="13.92" height="13.92" fill="#2c738e"/><rect x="372.11" y="183.44" width="13.92" height="13.92" fill="#31678e"/><rect x="385.73" y="183.44" width="13.92" height="13.92" fill="#355f8d"/><rect x="399.36" y="183.44" width="13.92" height="13.92" fill="#3c4f8a"/><rect x="412.98" y="183.44" width="13.92" height="13.92" fill="#2e6f8e"/><rect x="304.00" y="197.07" width="13.92" height="13.92" fill="#86d549"/><rect x="317.62" y="197.07" width="13.92" height="13.92" fill="#24868e"/><rect x="331.24" y="197.07" width="13.92" height="13.92" fill="#95d840"/><rect x="344.87" y="197.07" width="13.92" height="13.92" fill="#287d8e"/><rect x="358.49" y="197.07" width="13.92" height="13.92" fill="#287d8e"/><rect x="372.11" y="197.07" width="13.92" height="13.92" fill="#1f9f88"/><rect x="385.73" y="197.07" width="13.92" height="13.92" fill="#2e6f8e"/><rect x="399.36" y="197.07" width="13.92" height="13.92" fill="#306a8e"/><rect x="412.98" y="197.07" width="13.92" height="13.92" fill="#46085c"/><rect x="304.00" y="210.69" width="13.92" height="13.92" fill="#21918c"/><rect x="317.62" y="210.69" width="13.92" height="13.92" fill="#b0dd2f"/><rect x="331.24" y="210.69" width="13.92" height="13.92" fill="#26ad81"/><rect x="344.87" y="210.69" width="13.92" height="13.92" fill="#3bbb75"/><rect x="358.49" y="210.69" width="13.92" height="13.92" fill="#1f958b"/><rect x="372.11" y="210.69" width="13.92" height="13.92" fill="#460b5e"/><rect x="385.73" y="210.69" width="13.92" height="13.92" fill="#287d8e"/><rect x="399.36" y="210.69" width="13.92" height="13.92" fill="#2e6f8e"/><rect x="412.98" y="210.69" width="13.92" height="13.92" fill="#2c738e"/><rect x="304.00" y="224.31" width="13.92" height="13.92" fill="#e5e419"/><rect x="317.62" y="224.31" width="13.92" height="13.92" fill="#2a788e"/><rect x="331.24" y="224.31" width="13.92" height="13.92" fill="#44bf70"/><rect x="344.87" y="224.31" width="13.92" height="13.92" fill="#26ad81"/><rect x="358.49" y="224.31" width="13.92" height="13.92" fill="#26ad81"/><rect x="372.11" y="224.31" width="13.92" height="13.92" fill="#2a788e"/><rect x="385.73" y="224.31" width="13.92" height="13.92" fill="#2cb17e"/><rect x="399.36" y="224.31" width="13.92" height="13.92" fill="#21918c"/><rect x="412.98" y="224.31" width="13.92" height="13.92" fill="#287d8e"/><rect x="304.00" y="237.93" width="13.92" height="13.92" fill="#95d840"/><rect x="317.62" y="237.93" width="13.92" height="13.92" fill="#26ad81"/><rect x="331.24" y="237.93" width="13.92" height="13.92" fill="#26ad81"/><rect x="344.87" y="237.93" width="13.92" height="13.92" fill="#20a386"/><rect x="358.49" y="237.93" width="13.92" height="13.92" fill="#26828e"/><rect x="372.11" y="237.93" width="13.92" height="13.92" fill="#1f958b"/><rect x="385.73" y="237.93" width="13.92" height="13.92" fill="#32b67a"/><rect x="399.36" y="237.93" width="13.92" height="13.92" fill="#414487"/><rect x="412.98" y="237.93" width="13.92" height="13.92" fill="#1f9a8a"/><rect x="304.00" y="251.56" width="13.92" height="13.92" fill="#bddf26"/><rect x="317.62" y="251.56" width="13.92" height="13.92" fill="#22a884"/><rect x="331.24" y="251.56" width="13.92" height="13.92" fill="#24868e"/><rect x="344.87" y="251.56" width="13.92" height="13.92" fill="#58c765"/><rect x="358.49" y="251.56" width="13.92" height="13.92" fill="#58c765"/><rect x="372.11" y="251.56" width="13.92" height="13.92" fill="#7ad151"/><rect x="385.73" y="251.56" width="13.92" height="13.92" fill="#2a788e"/><rect x="399.36" y="251.56" width="13.92" height="13.92" fill="#287d8e"/><rect x="412.98" y="251.56" width="13.92" height="13.92" fill="#1f958b"/><rect x="304.00" y="265.18" width="13.92" height="13.92" fill="#24868e"/><rect x="317.62" y="265.18" width="13.92" height="13.92" fill="#f1e51d"/><rect x="331.24" y="265.18" width="13.92" height="13.92" fill="#bddf26"/><rect x="344.87" y="265.18" width="13.92" height="13.92" fill="#a2da37"/><rect x="358.49" y="265.18" width="13.92" height="13.92" fill="#2a788e"/><rect x="372.11" y="265.18" width="13.92" height="13.92" fill="#86d549"/><rect x="385.73" y="265.18" width="13.92" height="13.92" fill="#1f9a8a"/><rect x="399.36" y="265.18" width="13.92" height="13.92" fill="#44bf70"/><rect x="412.98" y="265.18" width="13.92" height="13.92" fill="#24868e"/></g>
<rect x="304.00" y="156.20" width="122.60" height="122.60" fill="none" stroke="#000" stroke-width="2.3"/>
<g shape-rendering="crispEdges"><rect x="430.90" y="156.20" width="13.92" height="13.92" fill="#6ece58"/><rect x="444.52" y="156.20" width="13.92" height="13.92" fill="#a2da37"/><rect x="458.14" y="156.20" width="13.92" height="13.92" fill="#1f958b"/><rect x="471.77" y="156.20" width="13.92" height="13.92" fill="#287d8e"/><rect x="485.39" y="156.20" width="13.92" height="13.92" fill="#86d549"/><rect x="499.01" y="156.20" width="13.92" height="13.92" fill="#26ad81"/><rect x="512.63" y="156.20" width="13.92" height="13.92" fill="#86d549"/><rect x="526.26" y="156.20" width="13.92" height="13.92" fill="#2a788e"/><rect x="539.88" y="156.20" width="13.92" height="13.92" fill="#306a8e"/><rect x="430.90" y="169.82" width="13.92" height="13.92" fill="#2a788e"/><rect x="444.52" y="169.82" width="13.92" height="13.92" fill="#1f958b"/><rect x="458.14" y="169.82" width="13.92" height="13.92" fill="#63cb5f"/><rect x="471.77" y="169.82" width="13.92" height="13.92" fill="#287d8e"/><rect x="485.39" y="169.82" width="13.92" height="13.92" fill="#1f9a8a"/><rect x="499.01" y="169.82" width="13.92" height="13.92" fill="#21918c"/><rect x="512.63" y="169.82" width="13.92" height="13.92" fill="#2e6f8e"/><rect x="526.26" y="169.82" width="13.92" height="13.92" fill="#26ad81"/><rect x="539.88" y="169.82" width="13.92" height="13.92" fill="#1f958b"/><rect x="430.90" y="183.44" width="13.92" height="13.92" fill="#228b8d"/><rect x="444.52" y="183.44" width="13.92" height="13.92" fill="#86d549"/><rect x="458.14" y="183.44" width="13.92" height="13.92" fill="#58c765"/><rect x="471.77" y="183.44" width="13.92" height="13.92" fill="#2e6f8e"/><rect x="485.39" y="183.44" width="13.92" height="13.92" fill="#1f958b"/><rect x="499.01" y="183.44" width="13.92" height="13.92" fill="#2a788e"/><rect x="512.63" y="183.44" width="13.92" height="13.92" fill="#2e6f8e"/><rect x="526.26" y="183.44" width="13.92" height="13.92" fill="#3e4989"/><rect x="539.88" y="183.44" width="13.92" height="13.92" fill="#24868e"/><rect x="430.90" y="197.07" width="13.92" height="13.92" fill="#228b8d"/><rect x="444.52" y="197.07" width="13.92" height="13.92" fill="#2a788e"/><rect x="458.14" y="197.07" width="13.92" height="13.92" fill="#287d8e"/><rect x="471.77" y="197.07" width="13.92" height="13.92" fill="#228b8d"/><rect x="485.39" y="197.07" width="13.92" height="13.92" fill="#26ad81"/><rect x="499.01" y="197.07" width="13.92" height="13.92" fill="#355f8d"/><rect x="512.63" y="197.07" width="13.92" height="13.92" fill="#24868e"/><rect x="526.26" y="197.07" width="13.92" height="13.92" fill="#32648e"/><rect x="539.88" y="197.07" width="13.92" height="13.92" fill="#2a788e"/><rect x="430.90" y="210.69" width="13.92" height="13.92" fill="#cae11f"/><rect x="444.52" y="210.69" width="13.92" height="13.92" fill="#1f9f88"/><rect x="458.14" y="210.69" width="13.92" height="13.92" fill="#32b67a"/><rect x="471.77" y="210.69" width="13.92" height="13.92" fill="#58c765"/><rect x="485.39" y="210.69" width="13.92" height="13.92" fill="#287d8e"/><rect x="499.01" y="210.69" width="13.92" height="13.92" fill="#287d8e"/><rect x="512.63" y="210.69" width="13.92" height="13.92" fill="#26828e"/><rect x="526.26" y="210.69" width="13.92" height="13.92" fill="#63cb5f"/><rect x="539.88" y="210.69" width="13.92" height="13.92" fill="#24868e"/><rect x="430.90" y="224.31" width="13.92" height="13.92" fill="#22a884"/><rect x="444.52" y="224.31" width="13.92" height="13.92" fill="#2a788e"/><rect x="458.14" y="224.31" width="13.92" height="13.92" fill="#306a8e"/><rect x="471.77" y="224.31" width="13.92" height="13.92" fill="#32b67a"/><rect x="485.39" y="224.31" width="13.92" height="13.92" fill="#228b8d"/><rect x="499.01" y="224.31" width="13.92" height="13.92" fill="#21918c"/><rect x="512.63" y="224.31" width="13.92" height="13.92" fill="#6ece58"/><rect x="526.26" y="224.31" width="13.92" height="13.92" fill="#2c738e"/><rect x="539.88" y="224.31" width="13.92" height="13.92" fill="#26828e"/><rect x="430.90" y="237.93" width="13.92" height="13.92" fill="#22a884"/><rect x="444.52" y="237.93" width="13.92" height="13.92" fill="#26828e"/><rect x="458.14" y="237.93" width="13.92" height="13.92" fill="#355f8d"/><rect x="471.77" y="237.93" width="13.92" height="13.92" fill="#6ece58"/><rect x="485.39" y="237.93" width="13.92" height="13.92" fill="#1f9f88"/><rect x="499.01" y="237.93" width="13.92" height="13.92" fill="#1f9a8a"/><rect x="512.63" y="237.93" width="13.92" height="13.92" fill="#306a8e"/><rect x="526.26" y="237.93" width="13.92" height="13.92" fill="#86d549"/><rect x="539.88" y="237.93" width="13.92" height="13.92" fill="#21918c"/><rect x="430.90" y="251.56" width="13.92" height="13.92" fill="#2cb17e"/><rect x="444.52" y="251.56" width="13.92" height="13.92" fill="#22a884"/><rect x="458.14" y="251.56" width="13.92" height="13.92" fill="#4ec36b"/><rect x="471.77" y="251.56" width="13.92" height="13.92" fill="#228b8d"/><rect x="485.39" y="251.56" width="13.92" height="13.92" fill="#20a386"/><rect x="499.01" y="251.56" width="13.92" height="13.92" fill="#26828e"/><rect x="512.63" y="251.56" width="13.92" height="13.92" fill="#26828e"/><rect x="526.26" y="251.56" width="13.92" height="13.92" fill="#1f9a8a"/><rect x="539.88" y="251.56" width="13.92" height="13.92" fill="#20a386"/><rect x="430.90" y="265.18" width="13.92" height="13.92" fill="#1f9a8a"/><rect x="444.52" y="265.18" width="13.92" height="13.92" fill="#32b67a"/><rect x="458.14" y="265.18" width="13.92" height="13.92" fill="#2a788e"/><rect x="471.77" y="265.18" width="13.92" height="13.92" fill="#228b8d"/><rect x="485.39" y="265.18" width="13.92" height="13.92" fill="#26828e"/><rect x="499.01" y="265.18" width="13.92" height="13.92" fill="#32b67a"/><rect x="512.63" y="265.18" width="13.92" height="13.92" fill="#bddf26"/><rect x="526.26" y="265.18" width="13.92" height="13.92" fill="#4ec36b"/><rect x="539.88" y="265.18" width="13.92" height="13.92" fill="#bddf26"/></g>
<rect x="430.90" y="156.20" width="122.60" height="122.60" fill="none" stroke="#000" stroke-width="2.3"/>
<rect x="559.40" y="156.20" width="12.00" height="122.60" fill="url(#vir)" stroke="#000" stroke-width="2.3"/>
<g shape-rendering="crispEdges"><rect x="50.20" y="282.20" width="13.92" height="13.92" fill="#fde725"/><rect x="63.82" y="282.20" width="13.92" height="13.92" fill="#fde725"/><rect x="77.44" y="282.20" width="13.92" height="13.92" fill="#fde725"/><rect x="91.07" y="282.20" width="13.92" height="13.92" fill="#e5e419"/><rect x="104.69" y="282.20" width="13.92" height="13.92" fill="#e5e419"/><rect x="118.31" y="282.20" width="13.92" height="13.92" fill="#e5e419"/><rect x="131.93" y="282.20" width="13.92" height="13.92" fill="#bddf26"/><rect x="145.56" y="282.20" width="13.92" height="13.92" fill="#bddf26"/><rect x="159.18" y="282.20" width="13.92" height="13.92" fill="#a2da37"/><rect x="50.20" y="295.82" width="13.92" height="13.92" fill="#cae11f"/><rect x="63.82" y="295.82" width="13.92" height="13.92" fill="#bddf26"/><rect x="77.44" y="295.82" width="13.92" height="13.92" fill="#d8e219"/><rect x="91.07" y="295.82" width="13.92" height="13.92" fill="#86d549"/><rect x="104.69" y="295.82" width="13.92" height="13.92" fill="#a2da37"/><rect x="118.31" y="295.82" width="13.92" height="13.92" fill="#a2da37"/><rect x="131.93" y="295.82" width="13.92" height="13.92" fill="#95d840"/><rect x="145.56" y="295.82" width="13.92" height="13.92" fill="#86d549"/><rect x="159.18" y="295.82" width="13.92" height="13.92" fill="#4ec36b"/><rect x="50.20" y="309.44" width="13.92" height="13.92" fill="#bddf26"/><rect x="63.82" y="309.44" width="13.92" height="13.92" fill="#95d840"/><rect x="77.44" y="309.44" width="13.92" height="13.92" fill="#63cb5f"/><rect x="91.07" y="309.44" width="13.92" height="13.92" fill="#a2da37"/><rect x="104.69" y="309.44" width="13.92" height="13.92" fill="#7ad151"/><rect x="118.31" y="309.44" width="13.92" height="13.92" fill="#58c765"/><rect x="131.93" y="309.44" width="13.92" height="13.92" fill="#4ec36b"/><rect x="145.56" y="309.44" width="13.92" height="13.92" fill="#44bf70"/><rect x="159.18" y="309.44" width="13.92" height="13.92" fill="#3bbb75"/><rect x="50.20" y="323.07" width="13.92" height="13.92" fill="#86d549"/><rect x="63.82" y="323.07" width="13.92" height="13.92" fill="#86d549"/><rect x="77.44" y="323.07" width="13.92" height="13.92" fill="#58c765"/><rect x="91.07" y="323.07" width="13.92" height="13.92" fill="#58c765"/><rect x="104.69" y="323.07" width="13.92" height="13.92" fill="#32b67a"/><rect x="118.31" y="323.07" width="13.92" height="13.92" fill="#3bbb75"/><rect x="131.93" y="323.07" width="13.92" height="13.92" fill="#26ad81"/><rect x="145.56" y="323.07" width="13.92" height="13.92" fill="#26ad81"/><rect x="159.18" y="323.07" width="13.92" height="13.92" fill="#22a884"/><rect x="50.20" y="336.69" width="13.92" height="13.92" fill="#3bbb75"/><rect x="63.82" y="336.69" width="13.92" height="13.92" fill="#26ad81"/><rect x="77.44" y="336.69" width="13.92" height="13.92" fill="#32b67a"/><rect x="91.07" y="336.69" width="13.92" height="13.92" fill="#2cb17e"/><rect x="104.69" y="336.69" width="13.92" height="13.92" fill="#20a386"/><rect x="118.31" y="336.69" width="13.92" height="13.92" fill="#1f9f88"/><rect x="131.93" y="336.69" width="13.92" height="13.92" fill="#20a386"/><rect x="145.56" y="336.69" width="13.92" height="13.92" fill="#20a386"/><rect x="159.18" y="336.69" width="13.92" height="13.92" fill="#21918c"/><rect x="50.20" y="350.31" width="13.92" height="13.92" fill="#22a884"/><rect x="63.82" y="350.31" width="13.92" height="13.92" fill="#1f958b"/><rect x="77.44" y="350.31" width="13.92" height="13.92" fill="#1f958b"/><rect x="91.07" y="350.31" width="13.92" height="13.92" fill="#1f9a8a"/><rect x="104.69" y="350.31" width="13.92" height="13.92" fill="#1f958b"/><rect x="118.31" y="350.31" width="13.92" height="13.92" fill="#228b8d"/><rect x="131.93" y="350.31" width="13.92" height="13.92" fill="#24868e"/><rect x="145.56" y="350.31" width="13.92" height="13.92" fill="#287d8e"/><rect x="159.18" y="350.31" width="13.92" height="13.92" fill="#287d8e"/><rect x="50.20" y="363.93" width="13.92" height="13.92" fill="#21918c"/><rect x="63.82" y="363.93" width="13.92" height="13.92" fill="#21918c"/><rect x="77.44" y="363.93" width="13.92" height="13.92" fill="#24868e"/><rect x="91.07" y="363.93" width="13.92" height="13.92" fill="#26828e"/><rect x="104.69" y="363.93" width="13.92" height="13.92" fill="#2a788e"/><rect x="118.31" y="363.93" width="13.92" height="13.92" fill="#2c738e"/><rect x="131.93" y="363.93" width="13.92" height="13.92" fill="#2e6f8e"/><rect x="145.56" y="363.93" width="13.92" height="13.92" fill="#2e6f8e"/><rect x="159.18" y="363.93" width="13.92" height="13.92" fill="#2e6f8e"/><rect x="50.20" y="377.56" width="13.92" height="13.92" fill="#2a788e"/><rect x="63.82" y="377.56" width="13.92" height="13.92" fill="#2c738e"/><rect x="77.44" y="377.56" width="13.92" height="13.92" fill="#2e6f8e"/><rect x="91.07" y="377.56" width="13.92" height="13.92" fill="#2a788e"/><rect x="104.69" y="377.56" width="13.92" height="13.92" fill="#306a8e"/><rect x="118.31" y="377.56" width="13.92" height="13.92" fill="#32648e"/><rect x="131.93" y="377.56" width="13.92" height="13.92" fill="#375a8c"/><rect x="145.56" y="377.56" width="13.92" height="13.92" fill="#375a8c"/><rect x="159.18" y="377.56" width="13.92" height="13.92" fill="#3e4989"/><rect x="50.20" y="391.18" width="13.92" height="13.92" fill="#2e6f8e"/><rect x="63.82" y="391.18" width="13.92" height="13.92" fill="#3a548c"/><rect x="77.44" y="391.18" width="13.92" height="13.92" fill="#306a8e"/><rect x="91.07" y="391.18" width="13.92" height="13.92" fill="#306a8e"/><rect x="104.69" y="391.18" width="13.92" height="13.92" fill="#3c4f8a"/><rect x="118.31" y="391.18" width="13.92" height="13.92" fill="#414487"/><rect x="131.93" y="391.18" width="13.92" height="13.92" fill="#414487"/><rect x="145.56" y="391.18" width="13.92" height="13.92" fill="#414487"/><rect x="159.18" y="391.18" width="13.92" height="13.92" fill="#463480"/></g>
<rect x="50.20" y="282.20" width="122.60" height="122.60" fill="none" stroke="#000" stroke-width="2.3"/>
<line x1="49.20" y1="316.26" x2="40.70" y2="316.26" stroke="#000" stroke-width="2.2"/><line x1="49.20" y1="343.50" x2="40.70" y2="343.50" stroke="#000" stroke-width="2.2"/><line x1="49.20" y1="370.74" x2="40.70" y2="370.74" stroke="#000" stroke-width="2.2"/><g shape-rendering="crispEdges"><rect x="177.10" y="282.20" width="13.92" height="13.92" fill="#20a386"/><rect x="190.72" y="282.20" width="13.92" height="13.92" fill="#21a685"/><rect x="204.34" y="282.20" width="13.92" height="13.92" fill="#20a386"/><rect x="217.97" y="282.20" width="13.92" height="13.92" fill="#1f9f88"/><rect x="231.59" y="282.20" width="13.92" height="13.92" fill="#1fa188"/><rect x="245.21" y="282.20" width="13.92" height="13.92" fill="#21a685"/><rect x="258.83" y="282.20" width="13.92" height="13.92" fill="#1e9c89"/><rect x="272.46" y="282.20" width="13.92" height="13.92" fill="#1f958b"/><rect x="286.08" y="282.20" width="13.92" height="13.92" fill="#1f9f88"/><rect x="177.10" y="295.82" width="13.92" height="13.92" fill="#21a685"/><rect x="190.72" y="295.82" width="13.92" height="13.92" fill="#21a685"/><rect x="204.34" y="295.82" width="13.92" height="13.92" fill="#21a685"/><rect x="217.97" y="295.82" width="13.92" height="13.92" fill="#1fa188"/><rect x="231.59" y="295.82" width="13.92" height="13.92" fill="#2cb17e"/><rect x="245.21" y="295.82" width="13.92" height="13.92" fill="#1f9a8a"/><rect x="258.83" y="295.82" width="13.92" height="13.92" fill="#1fa188"/><rect x="272.46" y="295.82" width="13.92" height="13.92" fill="#1fa188"/><rect x="286.08" y="295.82" width="13.92" height="13.92" fill="#1f9f88"/><rect x="177.10" y="309.44" width="13.92" height="13.92" fill="#2cb17e"/><rect x="190.72" y="309.44" width="13.92" height="13.92" fill="#21a685"/><rect x="204.34" y="309.44" width="13.92" height="13.92" fill="#21a685"/><rect x="217.97" y="309.44" width="13.92" height="13.92" fill="#26ad81"/><rect x="231.59" y="309.44" width="13.92" height="13.92" fill="#22a884"/><rect x="245.21" y="309.44" width="13.92" height="13.92" fill="#1f9a8a"/><rect x="258.83" y="309.44" width="13.92" height="13.92" fill="#20a386"/><rect x="272.46" y="309.44" width="13.92" height="13.92" fill="#1e9c89"/><rect x="286.08" y="309.44" width="13.92" height="13.92" fill="#20a386"/><rect x="177.10" y="323.07" width="13.92" height="13.92" fill="#1f9f88"/><rect x="190.72" y="323.07" width="13.92" height="13.92" fill="#26ad81"/><rect x="204.34" y="323.07" width="13.92" height="13.92" fill="#1fa188"/><rect x="217.97" y="323.07" width="13.92" height="13.92" fill="#1f978b"/><rect x="231.59" y="323.07" width="13.92" height="13.92" fill="#22a884"/><rect x="245.21" y="323.07" width="13.92" height="13.92" fill="#21a685"/><rect x="258.83" y="323.07" width="13.92" height="13.92" fill="#1fa188"/><rect x="272.46" y="323.07" width="13.92" height="13.92" fill="#26ad81"/><rect x="286.08" y="323.07" width="13.92" height="13.92" fill="#22a884"/><rect x="177.10" y="336.69" width="13.92" height="13.92" fill="#2cb17e"/><rect x="190.72" y="336.69" width="13.92" height="13.92" fill="#2cb17e"/><rect x="204.34" y="336.69" width="13.92" height="13.92" fill="#32b67a"/><rect x="217.97" y="336.69" width="13.92" height="13.92" fill="#22a884"/><rect x="231.59" y="336.69" width="13.92" height="13.92" fill="#1fa188"/><rect x="245.21" y="336.69" width="13.92" height="13.92" fill="#2fb47c"/><rect x="258.83" y="336.69" width="13.92" height="13.92" fill="#21a685"/><rect x="272.46" y="336.69" width="13.92" height="13.92" fill="#29af7f"/><rect x="286.08" y="336.69" width="13.92" height="13.92" fill="#25ab82"/><rect x="177.10" y="350.31" width="13.92" height="13.92" fill="#3bbb75"/><rect x="190.72" y="350.31" width="13.92" height="13.92" fill="#26ad81"/><rect x="204.34" y="350.31" width="13.92" height="13.92" fill="#2fb47c"/><rect x="217.97" y="350.31" width="13.92" height="13.92" fill="#32b67a"/><rect x="231.59" y="350.31" width="13.92" height="13.92" fill="#29af7f"/><rect x="245.21" y="350.31" width="13.92" height="13.92" fill="#29af7f"/><rect x="258.83" y="350.31" width="13.92" height="13.92" fill="#29af7f"/><rect x="272.46" y="350.31" width="13.92" height="13.92" fill="#26ad81"/><rect x="286.08" y="350.31" width="13.92" height="13.92" fill="#29af7f"/><rect x="177.10" y="363.93" width="13.92" height="13.92" fill="#44bf70"/><rect x="190.72" y="363.93" width="13.92" height="13.92" fill="#44bf70"/><rect x="204.34" y="363.93" width="13.92" height="13.92" fill="#37b878"/><rect x="217.97" y="363.93" width="13.92" height="13.92" fill="#32b67a"/><rect x="231.59" y="363.93" width="13.92" height="13.92" fill="#2cb17e"/><rect x="245.21" y="363.93" width="13.92" height="13.92" fill="#2cb17e"/><rect x="258.83" y="363.93" width="13.92" height="13.92" fill="#1fa188"/><rect x="272.46" y="363.93" width="13.92" height="13.92" fill="#29af7f"/><rect x="286.08" y="363.93" width="13.92" height="13.92" fill="#21a685"/><rect x="177.10" y="377.56" width="13.92" height="13.92" fill="#58c765"/><rect x="190.72" y="377.56" width="13.92" height="13.92" fill="#52c569"/><rect x="204.34" y="377.56" width="13.92" height="13.92" fill="#3fbc73"/><rect x="217.97" y="377.56" width="13.92" height="13.92" fill="#32b67a"/><rect x="231.59" y="377.56" width="13.92" height="13.92" fill="#26ad81"/><rect x="245.21" y="377.56" width="13.92" height="13.92" fill="#26ad81"/><rect x="258.83" y="377.56" width="13.92" height="13.92" fill="#29af7f"/><rect x="272.46" y="377.56" width="13.92" height="13.92" fill="#29af7f"/><rect x="286.08" y="377.56" width="13.92" height="13.92" fill="#22a884"/><rect x="177.10" y="391.18" width="13.92" height="13.92" fill="#3bbb75"/><rect x="190.72" y="391.18" width="13.92" height="13.92" fill="#3bbb75"/><rect x="204.34" y="391.18" width="13.92" height="13.92" fill="#6ece58"/><rect x="217.97" y="391.18" width="13.92" height="13.92" fill="#2fb47c"/><rect x="231.59" y="391.18" width="13.92" height="13.92" fill="#2cb17e"/><rect x="245.21" y="391.18" width="13.92" height="13.92" fill="#26ad81"/><rect x="258.83" y="391.18" width="13.92" height="13.92" fill="#32b67a"/><rect x="272.46" y="391.18" width="13.92" height="13.92" fill="#2cb17e"/><rect x="286.08" y="391.18" width="13.92" height="13.92" fill="#25ab82"/></g>
<rect x="177.10" y="282.20" width="122.60" height="122.60" fill="none" stroke="#000" stroke-width="2.3"/>
<g shape-rendering="crispEdges"><rect x="304.00" y="282.20" width="13.92" height="13.92" fill="#4ec36b"/><rect x="317.62" y="282.20" width="13.92" height="13.92" fill="#32b67a"/><rect x="331.24" y="282.20" width="13.92" height="13.92" fill="#3bbb75"/><rect x="344.87" y="282.20" width="13.92" height="13.92" fill="#6ece58"/><rect x="358.49" y="282.20" width="13.92" height="13.92" fill="#6ece58"/><rect x="372.11" y="282.20" width="13.92" height="13.92" fill="#6ece58"/><rect x="385.73" y="282.20" width="13.92" height="13.92" fill="#86d549"/><rect x="399.36" y="282.20" width="13.92" height="13.92" fill="#b0dd2f"/><rect x="412.98" y="282.20" width="13.92" height="13.92" fill="#b0dd2f"/><rect x="304.00" y="295.82" width="13.92" height="13.92" fill="#32b67a"/><rect x="317.62" y="295.82" width="13.92" height="13.92" fill="#26ad81"/><rect x="331.24" y="295.82" width="13.92" height="13.92" fill="#32b67a"/><rect x="344.87" y="295.82" width="13.92" height="13.92" fill="#44bf70"/><rect x="358.49" y="295.82" width="13.92" height="13.92" fill="#63cb5f"/><rect x="372.11" y="295.82" width="13.92" height="13.92" fill="#63cb5f"/><rect x="385.73" y="295.82" width="13.92" height="13.92" fill="#7ad151"/><rect x="399.36" y="295.82" width="13.92" height="13.92" fill="#7ad151"/><rect x="412.98" y="295.82" width="13.92" height="13.92" fill="#cae11f"/><rect x="304.00" y="309.44" width="13.92" height="13.92" fill="#26ad81"/><rect x="317.62" y="309.44" width="13.92" height="13.92" fill="#26ad81"/><rect x="331.24" y="309.44" width="13.92" height="13.92" fill="#2cb17e"/><rect x="344.87" y="309.44" width="13.92" height="13.92" fill="#32b67a"/><rect x="358.49" y="309.44" width="13.92" height="13.92" fill="#58c765"/><rect x="372.11" y="309.44" width="13.92" height="13.92" fill="#44bf70"/><rect x="385.73" y="309.44" width="13.92" height="13.92" fill="#58c765"/><rect x="399.36" y="309.44" width="13.92" height="13.92" fill="#6ece58"/><rect x="412.98" y="309.44" width="13.92" height="13.92" fill="#7ad151"/><rect x="304.00" y="323.07" width="13.92" height="13.92" fill="#20a386"/><rect x="317.62" y="323.07" width="13.92" height="13.92" fill="#20a386"/><rect x="331.24" y="323.07" width="13.92" height="13.92" fill="#1f9a8a"/><rect x="344.87" y="323.07" width="13.92" height="13.92" fill="#26ad81"/><rect x="358.49" y="323.07" width="13.92" height="13.92" fill="#26ad81"/><rect x="372.11" y="323.07" width="13.92" height="13.92" fill="#32b67a"/><rect x="385.73" y="323.07" width="13.92" height="13.92" fill="#32b67a"/><rect x="399.36" y="323.07" width="13.92" height="13.92" fill="#58c765"/><rect x="412.98" y="323.07" width="13.92" height="13.92" fill="#7ad151"/><rect x="304.00" y="336.69" width="13.92" height="13.92" fill="#21918c"/><rect x="317.62" y="336.69" width="13.92" height="13.92" fill="#20a386"/><rect x="331.24" y="336.69" width="13.92" height="13.92" fill="#1f9f88"/><rect x="344.87" y="336.69" width="13.92" height="13.92" fill="#20a386"/><rect x="358.49" y="336.69" width="13.92" height="13.92" fill="#1f9a8a"/><rect x="372.11" y="336.69" width="13.92" height="13.92" fill="#26ad81"/><rect x="385.73" y="336.69" width="13.92" height="13.92" fill="#2cb17e"/><rect x="399.36" y="336.69" width="13.92" height="13.92" fill="#2cb17e"/><rect x="412.98" y="336.69" width="13.92" height="13.92" fill="#32b67a"/><rect x="304.00" y="350.31" width="13.92" height="13.92" fill="#24868e"/><rect x="317.62" y="350.31" width="13.92" height="13.92" fill="#21918c"/><rect x="331.24" y="350.31" width="13.92" height="13.92" fill="#1f9a8a"/><rect x="344.87" y="350.31" width="13.92" height="13.92" fill="#1f9a8a"/><rect x="358.49" y="350.31" width="13.92" height="13.92" fill="#1f9f88"/><rect x="372.11" y="350.31" width="13.92" height="13.92" fill="#22a884"/><rect x="385.73" y="350.31" width="13.92" height="13.92" fill="#22a884"/><rect x="399.36" y="350.31" width="13.92" height="13.92" fill="#22a884"/><rect x="412.98" y="350.31" width="13.92" height="13.92" fill="#32b67a"/><rect x="304.00" y="363.93" width="13.92" height="13.92" fill="#26828e"/><rect x="317.62" y="363.93" width="13.92" height="13.92" fill="#26828e"/><rect x="331.24" y="363.93" width="13.92" height="13.92" fill="#1f958b"/><rect x="344.87" y="363.93" width="13.92" height="13.92" fill="#1f958b"/><rect x="358.49" y="363.93" width="13.92" height="13.92" fill="#24868e"/><rect x="372.11" y="363.93" width="13.92" height="13.92" fill="#1f9f88"/><rect x="385.73" y="363.93" width="13.92" height="13.92" fill="#1f9f88"/><rect x="399.36" y="363.93" width="13.92" height="13.92" fill="#1f9f88"/><rect x="412.98" y="363.93" width="13.92" height="13.92" fill="#22a884"/><rect x="304.00" y="377.56" width="13.92" height="13.92" fill="#2a788e"/><rect x="317.62" y="377.56" width="13.92" height="13.92" fill="#2c738e"/><rect x="331.24" y="377.56" width="13.92" height="13.92" fill="#26828e"/><rect x="344.87" y="377.56" width="13.92" height="13.92" fill="#24868e"/><rect x="358.49" y="377.56" width="13.92" height="13.92" fill="#26828e"/><rect x="372.11" y="377.56" width="13.92" height="13.92" fill="#26828e"/><rect x="385.73" y="377.56" width="13.92" height="13.92" fill="#228b8d"/><rect x="399.36" y="377.56" width="13.92" height="13.92" fill="#1f9a8a"/><rect x="412.98" y="377.56" width="13.92" height="13.92" fill="#1f9f88"/><rect x="304.00" y="391.18" width="13.92" height="13.92" fill="#355f8d"/><rect x="317.62" y="391.18" width="13.92" height="13.92" fill="#2e6f8e"/><rect x="331.24" y="391.18" width="13.92" height="13.92" fill="#2e6f8e"/><rect x="344.87" y="391.18" width="13.92" height="13.92" fill="#2c738e"/><rect x="358.49" y="391.18" width="13.92" height="13.92" fill="#287d8e"/><rect x="372.11" y="391.18" width="13.92" height="13.92" fill="#26828e"/><rect x="385.73" y="391.18" width="13.92" height="13.92" fill="#24868e"/><rect x="399.36" y="391.18" width="13.92" height="13.92" fill="#287d8e"/><rect x="412.98" y="391.18" width="13.92" height="13.92" fill="#1f958b"/></g>
<rect x="304.00" y="282.20" width="122.60" height="122.60" fill="none" stroke="#000" stroke-width="2.3"/>
<g shape-rendering="crispEdges"><rect x="430.90" y="282.20" width="13.92" height="13.92" fill="#1f958b"/><rect x="444.52" y="282.20" width="13.92" height="13.92" fill="#1f9a8a"/><rect x="458.14" y="282.20" width="13.92" height="13.92" fill="#1f978b"/><rect x="471.77" y="282.20" width="13.92" height="13.92" fill="#1f978b"/><rect x="485.39" y="282.20" width="13.92" height="13.92" fill="#22a884"/><rect x="499.01" y="282.20" width="13.92" height="13.92" fill="#2cb17e"/><rect x="512.63" y="282.20" width="13.92" height="13.92" fill="#37b878"/><rect x="526.26" y="282.20" width="13.92" height="13.92" fill="#3bbb75"/><rect x="539.88" y="282.20" width="13.92" height="13.92" fill="#48c16e"/><rect x="430.90" y="295.82" width="13.92" height="13.92" fill="#218e8d"/><rect x="444.52" y="295.82" width="13.92" height="13.92" fill="#1f9f88"/><rect x="458.14" y="295.82" width="13.92" height="13.92" fill="#1f9f88"/><rect x="471.77" y="295.82" width="13.92" height="13.92" fill="#22a884"/><rect x="485.39" y="295.82" width="13.92" height="13.92" fill="#20a386"/><rect x="499.01" y="295.82" width="13.92" height="13.92" fill="#4ec36b"/><rect x="512.63" y="295.82" width="13.92" height="13.92" fill="#2fb47c"/><rect x="526.26" y="295.82" width="13.92" height="13.92" fill="#25ab82"/><rect x="539.88" y="295.82" width="13.92" height="13.92" fill="#37b878"/><rect x="430.90" y="309.44" width="13.92" height="13.92" fill="#1f978b"/><rect x="444.52" y="309.44" width="13.92" height="13.92" fill="#1fa188"/><rect x="458.14" y="309.44" width="13.92" height="13.92" fill="#21918c"/><rect x="471.77" y="309.44" width="13.92" height="13.92" fill="#20a386"/><rect x="485.39" y="309.44" width="13.92" height="13.92" fill="#25ab82"/><rect x="499.01" y="309.44" width="13.92" height="13.92" fill="#26ad81"/><rect x="512.63" y="309.44" width="13.92" height="13.92" fill="#2cb17e"/><rect x="526.26" y="309.44" width="13.92" height="13.92" fill="#3bbb75"/><rect x="539.88" y="309.44" width="13.92" height="13.92" fill="#58c765"/><rect x="430.90" y="323.07" width="13.92" height="13.92" fill="#1e9c89"/><rect x="444.52" y="323.07" width="13.92" height="13.92" fill="#1fa188"/><rect x="458.14" y="323.07" width="13.92" height="13.92" fill="#1fa188"/><rect x="471.77" y="323.07" width="13.92" height="13.92" fill="#21a685"/><rect x="485.39" y="323.07" width="13.92" height="13.92" fill="#22a884"/><rect x="499.01" y="323.07" width="13.92" height="13.92" fill="#25ab82"/><rect x="512.63" y="323.07" width="13.92" height="13.92" fill="#29af7f"/><rect x="526.26" y="323.07" width="13.92" height="13.92" fill="#32b67a"/><rect x="539.88" y="323.07" width="13.92" height="13.92" fill="#3bbb75"/><rect x="430.90" y="336.69" width="13.92" height="13.92" fill="#1f9f88"/><rect x="444.52" y="336.69" width="13.92" height="13.92" fill="#20928c"/><rect x="458.14" y="336.69" width="13.92" height="13.92" fill="#1fa188"/><rect x="471.77" y="336.69" width="13.92" height="13.92" fill="#1f958b"/><rect x="485.39" y="336.69" width="13.92" height="13.92" fill="#20a386"/><rect x="499.01" y="336.69" width="13.92" height="13.92" fill="#22a884"/><rect x="512.63" y="336.69" width="13.92" height="13.92" fill="#2cb17e"/><rect x="526.26" y="336.69" width="13.92" height="13.92" fill="#2cb17e"/><rect x="539.88" y="336.69" width="13.92" height="13.92" fill="#37b878"/><rect x="430.90" y="350.31" width="13.92" height="13.92" fill="#1f9a8a"/><rect x="444.52" y="350.31" width="13.92" height="13.92" fill="#1e9c89"/><rect x="458.14" y="350.31" width="13.92" height="13.92" fill="#1e9c89"/><rect x="471.77" y="350.31" width="13.92" height="13.92" fill="#1fa188"/><rect x="485.39" y="350.31" width="13.92" height="13.92" fill="#1e9c89"/><rect x="499.01" y="350.31" width="13.92" height="13.92" fill="#37b878"/><rect x="512.63" y="350.31" width="13.92" height="13.92" fill="#26ad81"/><rect x="526.26" y="350.31" width="13.92" height="13.92" fill="#4ec36b"/><rect x="539.88" y="350.31" width="13.92" height="13.92" fill="#32b67a"/><rect x="430.90" y="363.93" width="13.92" height="13.92" fill="#20928c"/><rect x="444.52" y="363.93" width="13.92" height="13.92" fill="#1f9f88"/><rect x="458.14" y="363.93" width="13.92" height="13.92" fill="#26ad81"/><rect x="471.77" y="363.93" width="13.92" height="13.92" fill="#21a685"/><rect x="485.39" y="363.93" width="13.92" height="13.92" fill="#20a386"/><rect x="499.01" y="363.93" width="13.92" height="13.92" fill="#2cb17e"/><rect x="512.63" y="363.93" width="13.92" height="13.92" fill="#2cb17e"/><rect x="526.26" y="363.93" width="13.92" height="13.92" fill="#32b67a"/><rect x="539.88" y="363.93" width="13.92" height="13.92" fill="#5ec962"/><rect x="430.90" y="377.56" width="13.92" height="13.92" fill="#1f958b"/><rect x="444.52" y="377.56" width="13.92" height="13.92" fill="#1f978b"/><rect x="458.14" y="377.56" width="13.92" height="13.92" fill="#1f9a8a"/><rect x="471.77" y="377.56" width="13.92" height="13.92" fill="#1f9f88"/><rect x="485.39" y="377.56" width="13.92" height="13.92" fill="#1fa188"/><rect x="499.01" y="377.56" width="13.92" height="13.92" fill="#1e9c89"/><rect x="512.63" y="377.56" width="13.92" height="13.92" fill="#22a884"/><rect x="526.26" y="377.56" width="13.92" height="13.92" fill="#32b67a"/><rect x="539.88" y="377.56" width="13.92" height="13.92" fill="#3bbb75"/><rect x="430.90" y="391.18" width="13.92" height="13.92" fill="#1f958b"/><rect x="444.52" y="391.18" width="13.92" height="13.92" fill="#1f958b"/><rect x="458.14" y="391.18" width="13.92" height="13.92" fill="#22a884"/><rect x="471.77" y="391.18" width="13.92" height="13.92" fill="#21a685"/><rect x="485.39" y="391.18" width="13.92" height="13.92" fill="#25ab82"/><rect x="499.01" y="391.18" width="13.92" height="13.92" fill="#2cb17e"/><rect x="512.63" y="391.18" width="13.92" height="13.92" fill="#32b67a"/><rect x="526.26" y="391.18" width="13.92" height="13.92" fill="#32b67a"/><rect x="539.88" y="391.18" width="13.92" height="13.92" fill="#3fbc73"/></g>
<rect x="430.90" y="282.20" width="122.60" height="122.60" fill="none" stroke="#000" stroke-width="2.3"/>
<rect x="559.40" y="282.20" width="12.00" height="122.60" fill="url(#vir)" stroke="#000" stroke-width="2.3"/>
<g shape-rendering="crispEdges"><rect x="50.20" y="408.20" width="13.92" height="13.92" fill="#463480"/><rect x="63.82" y="408.20" width="13.92" height="13.92" fill="#433e85"/><rect x="77.44" y="408.20" width="13.92" height="13.92" fill="#453781"/><rect x="91.07" y="408.20" width="13.92" height="13.92" fill="#414487"/><rect x="104.69" y="408.20" width="13.92" height="13.92" fill="#433e85"/><rect x="118.31" y="408.20" width="13.92" height="13.92" fill="#453781"/><rect x="131.93" y="408.20" width="13.92" height="13.92" fill="#414487"/><rect x="145.56" y="408.20" width="13.92" height="13.92" fill="#414487"/><rect x="159.18" y="408.20" width="13.92" height="13.92" fill="#414487"/><rect x="50.20" y="421.82" width="13.92" height="13.92" fill="#355f8d"/><rect x="63.82" y="421.82" width="13.92" height="13.92" fill="#375a8c"/><rect x="77.44" y="421.82" width="13.92" height="13.92" fill="#375a8c"/><rect x="91.07" y="421.82" width="13.92" height="13.92" fill="#306a8e"/><rect x="104.69" y="421.82" width="13.92" height="13.92" fill="#365d8d"/><rect x="118.31" y="421.82" width="13.92" height="13.92" fill="#365d8d"/><rect x="131.93" y="421.82" width="13.92" height="13.92" fill="#375a8c"/><rect x="145.56" y="421.82" width="13.92" height="13.92" fill="#375a8c"/><rect x="159.18" y="421.82" width="13.92" height="13.92" fill="#2e6f8e"/><rect x="50.20" y="435.44" width="13.92" height="13.92" fill="#2e6f8e"/><rect x="63.82" y="435.44" width="13.92" height="13.92" fill="#2f6c8e"/><rect x="77.44" y="435.44" width="13.92" height="13.92" fill="#2a788e"/><rect x="91.07" y="435.44" width="13.92" height="13.92" fill="#31678e"/><rect x="104.69" y="435.44" width="13.92" height="13.92" fill="#2c738e"/><rect x="118.31" y="435.44" width="13.92" height="13.92" fill="#2a788e"/><rect x="131.93" y="435.44" width="13.92" height="13.92" fill="#2a788e"/><rect x="145.56" y="435.44" width="13.92" height="13.92" fill="#2a788e"/><rect x="159.18" y="435.44" width="13.92" height="13.92" fill="#2a788e"/><rect x="50.20" y="449.07" width="13.92" height="13.92" fill="#24868e"/><rect x="63.82" y="449.07" width="13.92" height="13.92" fill="#26828e"/><rect x="77.44" y="449.07" width="13.92" height="13.92" fill="#24868e"/><rect x="91.07" y="449.07" width="13.92" height="13.92" fill="#24868e"/><rect x="104.69" y="449.07" width="13.92" height="13.92" fill="#228b8d"/><rect x="118.31" y="449.07" width="13.92" height="13.92" fill="#26828e"/><rect x="131.93" y="449.07" width="13.92" height="13.92" fill="#228b8d"/><rect x="145.56" y="449.07" width="13.92" height="13.92" fill="#24868e"/><rect x="159.18" y="449.07" width="13.92" height="13.92" fill="#24868e"/><rect x="50.20" y="462.69" width="13.92" height="13.92" fill="#1f9f88"/><rect x="63.82" y="462.69" width="13.92" height="13.92" fill="#20a386"/><rect x="77.44" y="462.69" width="13.92" height="13.92" fill="#1f9a8a"/><rect x="91.07" y="462.69" width="13.92" height="13.92" fill="#1f9a8a"/><rect x="104.69" y="462.69" width="13.92" height="13.92" fill="#1f9f88"/><rect x="118.31" y="462.69" width="13.92" height="13.92" fill="#22a884"/><rect x="131.93" y="462.69" width="13.92" height="13.92" fill="#22a884"/><rect x="145.56" y="462.69" width="13.92" height="13.92" fill="#20a386"/><rect x="159.18" y="462.69" width="13.92" height="13.92" fill="#26ad81"/><rect x="50.20" y="476.31" width="13.92" height="13.92" fill="#32b67a"/><rect x="63.82" y="476.31" width="13.92" height="13.92" fill="#4ec36b"/><rect x="77.44" y="476.31" width="13.92" height="13.92" fill="#44bf70"/><rect x="91.07" y="476.31" width="13.92" height="13.92" fill="#32b67a"/><rect x="104.69" y="476.31" width="13.92" height="13.92" fill="#3bbb75"/><rect x="118.31" y="476.31" width="13.92" height="13.92" fill="#3bbb75"/><rect x="131.93" y="476.31" width="13.92" height="13.92" fill="#4ec36b"/><rect x="145.56" y="476.31" width="13.92" height="13.92" fill="#63cb5f"/><rect x="159.18" y="476.31" width="13.92" height="13.92" fill="#63cb5f"/><rect x="50.20" y="489.93" width="13.92" height="13.92" fill="#7ad151"/><rect x="63.82" y="489.93" width="13.92" height="13.92" fill="#63cb5f"/><rect x="77.44" y="489.93" width="13.92" height="13.92" fill="#7ad151"/><rect x="91.07" y="489.93" width="13.92" height="13.92" fill="#86d549"/><rect x="104.69" y="489.93" width="13.92" height="13.92" fill="#86d549"/><rect x="118.31" y="489.93" width="13.92" height="13.92" fill="#86d549"/><rect x="131.93" y="489.93" width="13.92" height="13.92" fill="#95d840"/><rect x="145.56" y="489.93" width="13.92" height="13.92" fill="#95d840"/><rect x="159.18" y="489.93" width="13.92" height="13.92" fill="#95d840"/><rect x="50.20" y="503.56" width="13.92" height="13.92" fill="#cae11f"/><rect x="63.82" y="503.56" width="13.92" height="13.92" fill="#cae11f"/><rect x="77.44" y="503.56" width="13.92" height="13.92" fill="#d2e21b"/><rect x="91.07" y="503.56" width="13.92" height="13.92" fill="#b0dd2f"/><rect x="104.69" y="503.56" width="13.92" height="13.92" fill="#d8e219"/><rect x="118.31" y="503.56" width="13.92" height="13.92" fill="#cae11f"/><rect x="131.93" y="503.56" width="13.92" height="13.92" fill="#dfe318"/><rect x="145.56" y="503.56" width="13.92" height="13.92" fill="#e5e419"/><rect x="159.18" y="503.56" width="13.92" height="13.92" fill="#f8e621"/><rect x="50.20" y="517.18" width="13.92" height="13.92" fill="#f1e51d"/><rect x="63.82" y="517.18" width="13.92" height="13.92" fill="#fde725"/><rect x="77.44" y="517.18" width="13.92" height="13.92" fill="#f8e621"/><rect x="91.07" y="517.18" width="13.92" height="13.92" fill="#f1e51d"/><rect x="104.69" y="517.18" width="13.92" height="13.92" fill="#fde725"/><rect x="118.31" y="517.18" width="13.92" height="13.92" fill="#fde725"/><rect x="131.93" y="517.18" width="13.92" height="13.92" fill="#fde725"/><rect x="145.56" y="517.18" width="13.92" height="13.92" fill="#fde725"/><rect x="159.18" y="517.18" width="13.92" height="13.92" fill="#fde725"/></g>
<rect x="50.20" y="408.20" width="122.60" height="122.60" fill="none" stroke="#000" stroke-width="2.3"/>
<line x1="49.20" y1="442.26" x2="40.70" y2="442.26" stroke="#000" stroke-width="2.2"/><line x1="49.20" y1="469.50" x2="40.70" y2="469.50" stroke="#000" stroke-width="2.2"/><line x1="49.20" y1="496.74" x2="40.70" y2="496.74" stroke="#000" stroke-width="2.2"/><g shape-rendering="crispEdges"><rect x="177.10" y="408.20" width="13.92" height="13.92" fill="#26ad81"/><rect x="190.72" y="408.20" width="13.92" height="13.92" fill="#26ad81"/><rect x="204.34" y="408.20" width="13.92" height="13.92" fill="#2cb17e"/><rect x="217.97" y="408.20" width="13.92" height="13.92" fill="#3bbb75"/><rect x="231.59" y="408.20" width="13.92" height="13.92" fill="#3bbb75"/><rect x="245.21" y="408.20" width="13.92" height="13.92" fill="#32b67a"/><rect x="258.83" y="408.20" width="13.92" height="13.92" fill="#4ec36b"/><rect x="272.46" y="408.20" width="13.92" height="13.92" fill="#63cb5f"/><rect x="286.08" y="408.20" width="13.92" height="13.92" fill="#4ec36b"/><rect x="177.10" y="421.82" width="13.92" height="13.92" fill="#22a884"/><rect x="190.72" y="421.82" width="13.92" height="13.92" fill="#22a884"/><rect x="204.34" y="421.82" width="13.92" height="13.92" fill="#22a884"/><rect x="217.97" y="421.82" width="13.92" height="13.92" fill="#2fb47c"/><rect x="231.59" y="421.82" width="13.92" height="13.92" fill="#22a884"/><rect x="245.21" y="421.82" width="13.92" height="13.92" fill="#44bf70"/><rect x="258.83" y="421.82" width="13.92" height="13.92" fill="#44bf70"/><rect x="272.46" y="421.82" width="13.92" height="13.92" fill="#48c16e"/><rect x="286.08" y="421.82" width="13.92" height="13.92" fill="#48c16e"/><rect x="177.10" y="435.44" width="13.92" height="13.92" fill="#1f9a8a"/><rect x="190.72" y="435.44" width="13.92" height="13.92" fill="#20a386"/><rect x="204.34" y="435.44" width="13.92" height="13.92" fill="#20a386"/><rect x="217.97" y="435.44" width="13.92" height="13.92" fill="#20a386"/><rect x="231.59" y="435.44" width="13.92" height="13.92" fill="#26ad81"/><rect x="245.21" y="435.44" width="13.92" height="13.92" fill="#3bbb75"/><rect x="258.83" y="435.44" width="13.92" height="13.92" fill="#37b878"/><rect x="272.46" y="435.44" width="13.92" height="13.92" fill="#44bf70"/><rect x="286.08" y="435.44" width="13.92" height="13.92" fill="#44bf70"/><rect x="177.10" y="449.07" width="13.92" height="13.92" fill="#1f9f88"/><rect x="190.72" y="449.07" width="13.92" height="13.92" fill="#1f9a8a"/><rect x="204.34" y="449.07" width="13.92" height="13.92" fill="#20a386"/><rect x="217.97" y="449.07" width="13.92" height="13.92" fill="#2cb17e"/><rect x="231.59" y="449.07" width="13.92" height="13.92" fill="#22a884"/><rect x="245.21" y="449.07" width="13.92" height="13.92" fill="#26ad81"/><rect x="258.83" y="449.07" width="13.92" height="13.92" fill="#29af7f"/><rect x="272.46" y="449.07" width="13.92" height="13.92" fill="#22a884"/><rect x="286.08" y="449.07" width="13.92" height="13.92" fill="#32b67a"/><rect x="177.10" y="462.69" width="13.92" height="13.92" fill="#21918c"/><rect x="190.72" y="462.69" width="13.92" height="13.92" fill="#1f958b"/><rect x="204.34" y="462.69" width="13.92" height="13.92" fill="#21918c"/><rect x="217.97" y="462.69" width="13.92" height="13.92" fill="#1f9f88"/><rect x="231.59" y="462.69" width="13.92" height="13.92" fill="#20a386"/><rect x="245.21" y="462.69" width="13.92" height="13.92" fill="#1f9a8a"/><rect x="258.83" y="462.69" width="13.92" height="13.92" fill="#22a884"/><rect x="272.46" y="462.69" width="13.92" height="13.92" fill="#22a884"/><rect x="286.08" y="462.69" width="13.92" height="13.92" fill="#29af7f"/><rect x="177.10" y="476.31" width="13.92" height="13.92" fill="#24868e"/><rect x="190.72" y="476.31" width="13.92" height="13.92" fill="#1f958b"/><rect x="204.34" y="476.31" width="13.92" height="13.92" fill="#21918c"/><rect x="217.97" y="476.31" width="13.92" height="13.92" fill="#1f958b"/><rect x="231.59" y="476.31" width="13.92" height="13.92" fill="#1f9a8a"/><rect x="245.21" y="476.31" width="13.92" height="13.92" fill="#1e9c89"/><rect x="258.83" y="476.31" width="13.92" height="13.92" fill="#1e9c89"/><rect x="272.46" y="476.31" width="13.92" height="13.92" fill="#20a386"/><rect x="286.08" y="476.31" width="13.92" height="13.92" fill="#22a884"/><rect x="177.10" y="489.93" width="13.92" height="13.92" fill="#26828e"/><rect x="190.72" y="489.93" width="13.92" height="13.92" fill="#26828e"/><rect x="204.34" y="489.93" width="13.92" height="13.92" fill="#228b8d"/><rect x="217.97" y="489.93" width="13.92" height="13.92" fill="#21918c"/><rect x="231.59" y="489.93" width="13.92" height="13.92" fill="#1f958b"/><rect x="245.21" y="489.93" width="13.92" height="13.92" fill="#1e9c89"/><rect x="258.83" y="489.93" width="13.92" height="13.92" fill="#22a884"/><rect x="272.46" y="489.93" width="13.92" height="13.92" fill="#1fa188"/><rect x="286.08" y="489.93" width="13.92" height="13.92" fill="#21a685"/><rect x="177.10" y="503.56" width="13.92" height="13.92" fill="#2a788e"/><rect x="190.72" y="503.56" width="13.92" height="13.92" fill="#2a788e"/><rect x="204.34" y="503.56" width="13.92" height="13.92" fill="#24868e"/><rect x="217.97" y="503.56" width="13.92" height="13.92" fill="#228b8d"/><rect x="231.59" y="503.56" width="13.92" height="13.92" fill="#21918c"/><rect x="245.21" y="503.56" width="13.92" height="13.92" fill="#21918c"/><rect x="258.83" y="503.56" width="13.92" height="13.92" fill="#21918c"/><rect x="272.46" y="503.56" width="13.92" height="13.92" fill="#1f978b"/><rect x="286.08" y="503.56" width="13.92" height="13.92" fill="#1f9f88"/><rect x="177.10" y="517.18" width="13.92" height="13.92" fill="#2a788e"/><rect x="190.72" y="517.18" width="13.92" height="13.92" fill="#287d8e"/><rect x="204.34" y="517.18" width="13.92" height="13.92" fill="#2c738e"/><rect x="217.97" y="517.18" width="13.92" height="13.92" fill="#228b8d"/><rect x="231.59" y="517.18" width="13.92" height="13.92" fill="#228b8d"/><rect x="245.21" y="517.18" width="13.92" height="13.92" fill="#21918c"/><rect x="258.83" y="517.18" width="13.92" height="13.92" fill="#228b8d"/><rect x="272.46" y="517.18" width="13.92" height="13.92" fill="#21918c"/><rect x="286.08" y="517.18" width="13.92" height="13.92" fill="#1f9a8a"/></g>
<rect x="177.10" y="408.20" width="122.60" height="122.60" fill="none" stroke="#000" stroke-width="2.3"/>
<g shape-rendering="crispEdges"><rect x="304.00" y="408.20" width="13.92" height="13.92" fill="#2e6f8e"/><rect x="317.62" y="408.20" width="13.92" height="13.92" fill="#2a788e"/><rect x="331.24" y="408.20" width="13.92" height="13.92" fill="#2c738e"/><rect x="344.87" y="408.20" width="13.92" height="13.92" fill="#31678e"/><rect x="358.49" y="408.20" width="13.92" height="13.92" fill="#2e6f8e"/><rect x="372.11" y="408.20" width="13.92" height="13.92" fill="#2d718e"/><rect x="385.73" y="408.20" width="13.92" height="13.92" fill="#2e6f8e"/><rect x="399.36" y="408.20" width="13.92" height="13.92" fill="#2e6f8e"/><rect x="412.98" y="408.20" width="13.92" height="13.92" fill="#2f6c8e"/><rect x="304.00" y="421.82" width="13.92" height="13.92" fill="#26828e"/><rect x="317.62" y="421.82" width="13.92" height="13.92" fill="#23898e"/><rect x="331.24" y="421.82" width="13.92" height="13.92" fill="#26828e"/><rect x="344.87" y="421.82" width="13.92" height="13.92" fill="#26828e"/><rect x="358.49" y="421.82" width="13.92" height="13.92" fill="#2a788e"/><rect x="372.11" y="421.82" width="13.92" height="13.92" fill="#287d8e"/><rect x="385.73" y="421.82" width="13.92" height="13.92" fill="#287d8e"/><rect x="399.36" y="421.82" width="13.92" height="13.92" fill="#287d8e"/><rect x="412.98" y="421.82" width="13.92" height="13.92" fill="#2e6f8e"/><rect x="304.00" y="435.44" width="13.92" height="13.92" fill="#21918c"/><rect x="317.62" y="435.44" width="13.92" height="13.92" fill="#228b8d"/><rect x="331.24" y="435.44" width="13.92" height="13.92" fill="#228b8d"/><rect x="344.87" y="435.44" width="13.92" height="13.92" fill="#218e8d"/><rect x="358.49" y="435.44" width="13.92" height="13.92" fill="#228b8d"/><rect x="372.11" y="435.44" width="13.92" height="13.92" fill="#21918c"/><rect x="385.73" y="435.44" width="13.92" height="13.92" fill="#21918c"/><rect x="399.36" y="435.44" width="13.92" height="13.92" fill="#23898e"/><rect x="412.98" y="435.44" width="13.92" height="13.92" fill="#228b8d"/><rect x="304.00" y="449.07" width="13.92" height="13.92" fill="#1f9f88"/><rect x="317.62" y="449.07" width="13.92" height="13.92" fill="#1f9f88"/><rect x="331.24" y="449.07" width="13.92" height="13.92" fill="#22a884"/><rect x="344.87" y="449.07" width="13.92" height="13.92" fill="#1f9a8a"/><rect x="358.49" y="449.07" width="13.92" height="13.92" fill="#1f9f88"/><rect x="372.11" y="449.07" width="13.92" height="13.92" fill="#1f9a8a"/><rect x="385.73" y="449.07" width="13.92" height="13.92" fill="#1f9a8a"/><rect x="399.36" y="449.07" width="13.92" height="13.92" fill="#21918c"/><rect x="412.98" y="449.07" width="13.92" height="13.92" fill="#21918c"/><rect x="304.00" y="462.69" width="13.92" height="13.92" fill="#32b67a"/><rect x="317.62" y="462.69" width="13.92" height="13.92" fill="#1f9f88"/><rect x="331.24" y="462.69" width="13.92" height="13.92" fill="#20a386"/><rect x="344.87" y="462.69" width="13.92" height="13.92" fill="#20a386"/><rect x="358.49" y="462.69" width="13.92" height="13.92" fill="#26ad81"/><rect x="372.11" y="462.69" width="13.92" height="13.92" fill="#21a685"/><rect x="385.73" y="462.69" width="13.92" height="13.92" fill="#1f9f88"/><rect x="399.36" y="462.69" width="13.92" height="13.92" fill="#22a884"/><rect x="412.98" y="462.69" width="13.92" height="13.92" fill="#22a884"/><rect x="304.00" y="476.31" width="13.92" height="13.92" fill="#4ec36b"/><rect x="317.62" y="476.31" width="13.92" height="13.92" fill="#4ec36b"/><rect x="331.24" y="476.31" width="13.92" height="13.92" fill="#3bbb75"/><rect x="344.87" y="476.31" width="13.92" height="13.92" fill="#3bbb75"/><rect x="358.49" y="476.31" width="13.92" height="13.92" fill="#32b67a"/><rect x="372.11" y="476.31" width="13.92" height="13.92" fill="#2cb17e"/><rect x="385.73" y="476.31" width="13.92" height="13.92" fill="#32b67a"/><rect x="399.36" y="476.31" width="13.92" height="13.92" fill="#2cb17e"/><rect x="412.98" y="476.31" width="13.92" height="13.92" fill="#26ad81"/><rect x="304.00" y="489.93" width="13.92" height="13.92" fill="#58c765"/><rect x="317.62" y="489.93" width="13.92" height="13.92" fill="#58c765"/><rect x="331.24" y="489.93" width="13.92" height="13.92" fill="#3bbb75"/><rect x="344.87" y="489.93" width="13.92" height="13.92" fill="#32b67a"/><rect x="358.49" y="489.93" width="13.92" height="13.92" fill="#58c765"/><rect x="372.11" y="489.93" width="13.92" height="13.92" fill="#32b67a"/><rect x="385.73" y="489.93" width="13.92" height="13.92" fill="#32b67a"/><rect x="399.36" y="489.93" width="13.92" height="13.92" fill="#3bbb75"/><rect x="412.98" y="489.93" width="13.92" height="13.92" fill="#3bbb75"/><rect x="304.00" y="503.56" width="13.92" height="13.92" fill="#7ad151"/><rect x="317.62" y="503.56" width="13.92" height="13.92" fill="#7ad151"/><rect x="331.24" y="503.56" width="13.92" height="13.92" fill="#7ad151"/><rect x="344.87" y="503.56" width="13.92" height="13.92" fill="#6ece58"/><rect x="358.49" y="503.56" width="13.92" height="13.92" fill="#63cb5f"/><rect x="372.11" y="503.56" width="13.92" height="13.92" fill="#6ece58"/><rect x="385.73" y="503.56" width="13.92" height="13.92" fill="#63cb5f"/><rect x="399.36" y="503.56" width="13.92" height="13.92" fill="#4ec36b"/><rect x="412.98" y="503.56" width="13.92" height="13.92" fill="#4ec36b"/><rect x="304.00" y="517.18" width="13.92" height="13.92" fill="#cae11f"/><rect x="317.62" y="517.18" width="13.92" height="13.92" fill="#95d840"/><rect x="331.24" y="517.18" width="13.92" height="13.92" fill="#a2da37"/><rect x="344.87" y="517.18" width="13.92" height="13.92" fill="#a2da37"/><rect x="358.49" y="517.18" width="13.92" height="13.92" fill="#86d549"/><rect x="372.11" y="517.18" width="13.92" height="13.92" fill="#7ad151"/><rect x="385.73" y="517.18" width="13.92" height="13.92" fill="#6ece58"/><rect x="399.36" y="517.18" width="13.92" height="13.92" fill="#95d840"/><rect x="412.98" y="517.18" width="13.92" height="13.92" fill="#63cb5f"/></g>
<rect x="304.00" y="408.20" width="122.60" height="122.60" fill="none" stroke="#000" stroke-width="2.3"/>
<g shape-rendering="crispEdges"><rect x="430.90" y="408.20" width="13.92" height="13.92" fill="#44bf70"/><rect x="444.52" y="408.20" width="13.92" height="13.92" fill="#3bbb75"/><rect x="458.14" y="408.20" width="13.92" height="13.92" fill="#32b67a"/><rect x="471.77" y="408.20" width="13.92" height="13.92" fill="#2cb17e"/><rect x="485.39" y="408.20" width="13.92" height="13.92" fill="#20a386"/><rect x="499.01" y="408.20" width="13.92" height="13.92" fill="#1f9a8a"/><rect x="512.63" y="408.20" width="13.92" height="13.92" fill="#228b8d"/><rect x="526.26" y="408.20" width="13.92" height="13.92" fill="#228b8d"/><rect x="539.88" y="408.20" width="13.92" height="13.92" fill="#24868e"/><rect x="430.90" y="421.82" width="13.92" height="13.92" fill="#52c569"/><rect x="444.52" y="421.82" width="13.92" height="13.92" fill="#32b67a"/><rect x="458.14" y="421.82" width="13.92" height="13.92" fill="#2cb17e"/><rect x="471.77" y="421.82" width="13.92" height="13.92" fill="#22a884"/><rect x="485.39" y="421.82" width="13.92" height="13.92" fill="#22a884"/><rect x="499.01" y="421.82" width="13.92" height="13.92" fill="#21918c"/><rect x="512.63" y="421.82" width="13.92" height="13.92" fill="#1f958b"/><rect x="526.26" y="421.82" width="13.92" height="13.92" fill="#1f958b"/><rect x="539.88" y="421.82" width="13.92" height="13.92" fill="#228b8d"/><rect x="430.90" y="435.44" width="13.92" height="13.92" fill="#44bf70"/><rect x="444.52" y="435.44" width="13.92" height="13.92" fill="#32b67a"/><rect x="458.14" y="435.44" width="13.92" height="13.92" fill="#44bf70"/><rect x="471.77" y="435.44" width="13.92" height="13.92" fill="#26ad81"/><rect x="485.39" y="435.44" width="13.92" height="13.92" fill="#20a386"/><rect x="499.01" y="435.44" width="13.92" height="13.92" fill="#1f9f88"/><rect x="512.63" y="435.44" width="13.92" height="13.92" fill="#1f9a8a"/><rect x="526.26" y="435.44" width="13.92" height="13.92" fill="#228b8d"/><rect x="539.88" y="435.44" width="13.92" height="13.92" fill="#26828e"/><rect x="430.90" y="449.07" width="13.92" height="13.92" fill="#3bbb75"/><rect x="444.52" y="449.07" width="13.92" height="13.92" fill="#32b67a"/><rect x="458.14" y="449.07" width="13.92" height="13.92" fill="#32b67a"/><rect x="471.77" y="449.07" width="13.92" height="13.92" fill="#22a884"/><rect x="485.39" y="449.07" width="13.92" height="13.92" fill="#22a884"/><rect x="499.01" y="449.07" width="13.92" height="13.92" fill="#1f9f88"/><rect x="512.63" y="449.07" width="13.92" height="13.92" fill="#1f9a8a"/><rect x="526.26" y="449.07" width="13.92" height="13.92" fill="#228b8d"/><rect x="539.88" y="449.07" width="13.92" height="13.92" fill="#228b8d"/><rect x="430.90" y="462.69" width="13.92" height="13.92" fill="#32b67a"/><rect x="444.52" y="462.69" width="13.92" height="13.92" fill="#44bf70"/><rect x="458.14" y="462.69" width="13.92" height="13.92" fill="#32b67a"/><rect x="471.77" y="462.69" width="13.92" height="13.92" fill="#32b67a"/><rect x="485.39" y="462.69" width="13.92" height="13.92" fill="#22a884"/><rect x="499.01" y="462.69" width="13.92" height="13.92" fill="#1f9f88"/><rect x="512.63" y="462.69" width="13.92" height="13.92" fill="#1f958b"/><rect x="526.26" y="462.69" width="13.92" height="13.92" fill="#1f958b"/><rect x="539.88" y="462.69" width="13.92" height="13.92" fill="#228b8d"/><rect x="430.90" y="476.31" width="13.92" height="13.92" fill="#3bbb75"/><rect x="444.52" y="476.31" width="13.92" height="13.92" fill="#32b67a"/><rect x="458.14" y="476.31" width="13.92" height="13.92" fill="#26ad81"/><rect x="471.77" y="476.31" width="13.92" height="13.92" fill="#26ad81"/><rect x="485.39" y="476.31" width="13.92" height="13.92" fill="#22a884"/><rect x="499.01" y="476.31" width="13.92" height="13.92" fill="#21918c"/><rect x="512.63" y="476.31" width="13.92" height="13.92" fill="#1f9a8a"/><rect x="526.26" y="476.31" width="13.92" height="13.92" fill="#24868e"/><rect x="539.88" y="476.31" width="13.92" height="13.92" fill="#228b8d"/><rect x="430.90" y="489.93" width="13.92" height="13.92" fill="#4ec36b"/><rect x="444.52" y="489.93" width="13.92" height="13.92" fill="#32b67a"/><rect x="458.14" y="489.93" width="13.92" height="13.92" fill="#22a884"/><rect x="471.77" y="489.93" width="13.92" height="13.92" fill="#22a884"/><rect x="485.39" y="489.93" width="13.92" height="13.92" fill="#20a386"/><rect x="499.01" y="489.93" width="13.92" height="13.92" fill="#1f9a8a"/><rect x="512.63" y="489.93" width="13.92" height="13.92" fill="#1f9a8a"/><rect x="526.26" y="489.93" width="13.92" height="13.92" fill="#21918c"/><rect x="539.88" y="489.93" width="13.92" height="13.92" fill="#287d8e"/><rect x="430.90" y="503.56" width="13.92" height="13.92" fill="#4ec36b"/><rect x="444.52" y="503.56" width="13.92" height="13.92" fill="#3bbb75"/><rect x="458.14" y="503.56" width="13.92" height="13.92" fill="#32b67a"/><rect x="471.77" y="503.56" width="13.92" height="13.92" fill="#2cb17e"/><rect x="485.39" y="503.56" width="13.92" height="13.92" fill="#26ad81"/><rect x="499.01" y="503.56" width="13.92" height="13.92" fill="#20a386"/><rect x="512.63" y="503.56" width="13.92" height="13.92" fill="#1f9a8a"/><rect x="526.26" y="503.56" width="13.92" height="13.92" fill="#21918c"/><rect x="539.88" y="503.56" width="13.92" height="13.92" fill="#24868e"/><rect x="430.90" y="517.18" width="13.92" height="13.92" fill="#4ec36b"/><rect x="444.52" y="517.18" width="13.92" height="13.92" fill="#44bf70"/><rect x="458.14" y="517.18" width="13.92" height="13.92" fill="#2cb17e"/><rect x="471.77" y="517.18" width="13.92" height="13.92" fill="#26ad81"/><rect x="485.39" y="517.18" width="13.92" height="13.92" fill="#20a386"/><rect x="499.01" y="517.18" width="13.92" height="13.92" fill="#1f9f88"/><rect x="512.63" y="517.18" width="13.92" height="13.92" fill="#1f958b"/><rect x="526.26" y="517.18" width="13.92" height="13.92" fill="#21918c"/><rect x="539.88" y="517.18" width="13.92" height="13.92" fill="#24868e"/></g>
<rect x="430.90" y="408.20" width="122.60" height="122.60" fill="none" stroke="#000" stroke-width="2.3"/>
<rect x="559.40" y="408.20" width="12.00" height="122.60" fill="url(#vir)" stroke="#000" stroke-width="2.3"/>
<g shape-rendering="crispEdges"><rect x="50.20" y="534.20" width="13.92" height="13.92" fill="#1f968b"/><rect x="63.82" y="534.20" width="13.92" height="13.92" fill="#1fa088"/><rect x="77.44" y="534.20" width="13.92" height="13.92" fill="#23a983"/><rect x="91.07" y="534.20" width="13.92" height="13.92" fill="#58c765"/><rect x="104.69" y="534.20" width="13.92" height="13.92" fill="#3bbb75"/><rect x="118.31" y="534.20" width="13.92" height="13.92" fill="#58c765"/><rect x="131.93" y="534.20" width="13.92" height="13.92" fill="#2eb37c"/><rect x="145.56" y="534.20" width="13.92" height="13.92" fill="#32b67a"/><rect x="159.18" y="534.20" width="13.92" height="13.92" fill="#6ece58"/><rect x="50.20" y="547.82" width="13.92" height="13.92" fill="#1fa088"/><rect x="63.82" y="547.82" width="13.92" height="13.92" fill="#1e9b8a"/><rect x="77.44" y="547.82" width="13.92" height="13.92" fill="#20928c"/><rect x="91.07" y="547.82" width="13.92" height="13.92" fill="#4ec36b"/><rect x="104.69" y="547.82" width="13.92" height="13.92" fill="#58c765"/><rect x="118.31" y="547.82" width="13.92" height="13.92" fill="#1fa088"/><rect x="131.93" y="547.82" width="13.92" height="13.92" fill="#4ec36b"/><rect x="145.56" y="547.82" width="13.92" height="13.92" fill="#32b67a"/><rect x="159.18" y="547.82" width="13.92" height="13.92" fill="#7ad151"/><rect x="50.20" y="561.44" width="13.92" height="13.92" fill="#1fa088"/><rect x="63.82" y="561.44" width="13.92" height="13.92" fill="#28ae80"/><rect x="77.44" y="561.44" width="13.92" height="13.92" fill="#63cb5f"/><rect x="91.07" y="561.44" width="13.92" height="13.92" fill="#1fa088"/><rect x="104.69" y="561.44" width="13.92" height="13.92" fill="#2eb37c"/><rect x="118.31" y="561.44" width="13.92" height="13.92" fill="#2cb17e"/><rect x="131.93" y="561.44" width="13.92" height="13.92" fill="#2cb17e"/><rect x="145.56" y="561.44" width="13.92" height="13.92" fill="#2eb37c"/><rect x="159.18" y="561.44" width="13.92" height="13.92" fill="#1fa088"/><rect x="50.20" y="575.07" width="13.92" height="13.92" fill="#228d8d"/><rect x="63.82" y="575.07" width="13.92" height="13.92" fill="#1f968b"/><rect x="77.44" y="575.07" width="13.92" height="13.92" fill="#1f968b"/><rect x="91.07" y="575.07" width="13.92" height="13.92" fill="#228d8d"/><rect x="104.69" y="575.07" width="13.92" height="13.92" fill="#26828e"/><rect x="118.31" y="575.07" width="13.92" height="13.92" fill="#20a486"/><rect x="131.93" y="575.07" width="13.92" height="13.92" fill="#1e9b8a"/><rect x="145.56" y="575.07" width="13.92" height="13.92" fill="#2eb37c"/><rect x="159.18" y="575.07" width="13.92" height="13.92" fill="#1e9b8a"/><rect x="50.20" y="588.69" width="13.92" height="13.92" fill="#1f968b"/><rect x="63.82" y="588.69" width="13.92" height="13.92" fill="#28ae80"/><rect x="77.44" y="588.69" width="13.92" height="13.92" fill="#228d8d"/><rect x="91.07" y="588.69" width="13.92" height="13.92" fill="#1e9b8a"/><rect x="104.69" y="588.69" width="13.92" height="13.92" fill="#20a486"/><rect x="118.31" y="588.69" width="13.92" height="13.92" fill="#20a486"/><rect x="131.93" y="588.69" width="13.92" height="13.92" fill="#1e9b8a"/><rect x="145.56" y="588.69" width="13.92" height="13.92" fill="#23888e"/><rect x="159.18" y="588.69" width="13.92" height="13.92" fill="#26828e"/><rect x="50.20" y="602.31" width="13.92" height="13.92" fill="#20928c"/><rect x="63.82" y="602.31" width="13.92" height="13.92" fill="#1fa088"/><rect x="77.44" y="602.31" width="13.92" height="13.92" fill="#1fa088"/><rect x="91.07" y="602.31" width="13.92" height="13.92" fill="#1e9b8a"/><rect x="104.69" y="602.31" width="13.92" height="13.92" fill="#29798e"/><rect x="118.31" y="602.31" width="13.92" height="13.92" fill="#32b67a"/><rect x="131.93" y="602.31" width="13.92" height="13.92" fill="#277e8e"/><rect x="145.56" y="602.31" width="13.92" height="13.92" fill="#228d8d"/><rect x="159.18" y="602.31" width="13.92" height="13.92" fill="#2b748e"/><rect x="50.20" y="615.93" width="13.92" height="13.92" fill="#1e9b8a"/><rect x="63.82" y="615.93" width="13.92" height="13.92" fill="#1fa088"/><rect x="77.44" y="615.93" width="13.92" height="13.92" fill="#26828e"/><rect x="91.07" y="615.93" width="13.92" height="13.92" fill="#23888e"/><rect x="104.69" y="615.93" width="13.92" height="13.92" fill="#26828e"/><rect x="118.31" y="615.93" width="13.92" height="13.92" fill="#1e9b8a"/><rect x="131.93" y="615.93" width="13.92" height="13.92" fill="#29798e"/><rect x="145.56" y="615.93" width="13.92" height="13.92" fill="#2d708e"/><rect x="159.18" y="615.93" width="13.92" height="13.92" fill="#3c4f8a"/><rect x="50.20" y="629.56" width="13.92" height="13.92" fill="#2eb37c"/><rect x="63.82" y="629.56" width="13.92" height="13.92" fill="#28ae80"/><rect x="77.44" y="629.56" width="13.92" height="13.92" fill="#1f968b"/><rect x="91.07" y="629.56" width="13.92" height="13.92" fill="#2b748e"/><rect x="104.69" y="629.56" width="13.92" height="13.92" fill="#2f6b8e"/><rect x="118.31" y="629.56" width="13.92" height="13.92" fill="#20928c"/><rect x="131.93" y="629.56" width="13.92" height="13.92" fill="#20928c"/><rect x="145.56" y="629.56" width="13.92" height="13.92" fill="#375a8c"/><rect x="159.18" y="629.56" width="13.92" height="13.92" fill="#375a8c"/><rect x="50.20" y="643.18" width="13.92" height="13.92" fill="#1fa088"/><rect x="63.82" y="643.18" width="13.92" height="13.92" fill="#23888e"/><rect x="77.44" y="643.18" width="13.92" height="13.92" fill="#23888e"/><rect x="91.07" y="643.18" width="13.92" height="13.92" fill="#228d8d"/><rect x="104.69" y="643.18" width="13.92" height="13.92" fill="#2d708e"/><rect x="118.31" y="643.18" width="13.92" height="13.92" fill="#2b748e"/><rect x="131.93" y="643.18" width="13.92" height="13.92" fill="#23888e"/><rect x="145.56" y="643.18" width="13.92" height="13.92" fill="#433e85"/><rect x="159.18" y="643.18" width="13.92" height="13.92" fill="#433e85"/></g>
<rect x="50.20" y="534.20" width="122.60" height="122.60" fill="none" stroke="#000" stroke-width="2.3"/>
<line x1="49.20" y1="568.26" x2="40.70" y2="568.26" stroke="#000" stroke-width="2.2"/><line x1="49.20" y1="595.50" x2="40.70" y2="595.50" stroke="#000" stroke-width="2.2"/><line x1="49.20" y1="622.74" x2="40.70" y2="622.74" stroke="#000" stroke-width="2.2"/><line x1="84.26" y1="657.80" x2="84.26" y2="666.50" stroke="#000" stroke-width="2.2"/><line x1="111.50" y1="657.80" x2="111.50" y2="666.50" stroke="#000" stroke-width="2.2"/><line x1="138.74" y1="657.80" x2="138.74" y2="666.50" stroke="#000" stroke-width="2.2"/><g shape-rendering="crispEdges"><rect x="177.10" y="534.20" width="13.92" height="13.92" fill="#26828e"/><rect x="190.72" y="534.20" width="13.92" height="13.92" fill="#26828e"/><rect x="204.34" y="534.20" width="13.92" height="13.92" fill="#29798e"/><rect x="217.97" y="534.20" width="13.92" height="13.92" fill="#2d708e"/><rect x="231.59" y="534.20" width="13.92" height="13.92" fill="#26828e"/><rect x="245.21" y="534.20" width="13.92" height="13.92" fill="#20928c"/><rect x="258.83" y="534.20" width="13.92" height="13.92" fill="#26828e"/><rect x="272.46" y="534.20" width="13.92" height="13.92" fill="#277e8e"/><rect x="286.08" y="534.20" width="13.92" height="13.92" fill="#2b748e"/><rect x="177.10" y="547.82" width="13.92" height="13.92" fill="#277e8e"/><rect x="190.72" y="547.82" width="13.92" height="13.92" fill="#2b748e"/><rect x="204.34" y="547.82" width="13.92" height="13.92" fill="#26828e"/><rect x="217.97" y="547.82" width="13.92" height="13.92" fill="#26828e"/><rect x="231.59" y="547.82" width="13.92" height="13.92" fill="#31668e"/><rect x="245.21" y="547.82" width="13.92" height="13.92" fill="#2d708e"/><rect x="258.83" y="547.82" width="13.92" height="13.92" fill="#2b748e"/><rect x="272.46" y="547.82" width="13.92" height="13.92" fill="#277e8e"/><rect x="286.08" y="547.82" width="13.92" height="13.92" fill="#277e8e"/><rect x="177.10" y="561.44" width="13.92" height="13.92" fill="#277e8e"/><rect x="190.72" y="561.44" width="13.92" height="13.92" fill="#20928c"/><rect x="204.34" y="561.44" width="13.92" height="13.92" fill="#23888e"/><rect x="217.97" y="561.44" width="13.92" height="13.92" fill="#2d708e"/><rect x="231.59" y="561.44" width="13.92" height="13.92" fill="#26828e"/><rect x="245.21" y="561.44" width="13.92" height="13.92" fill="#1f968b"/><rect x="258.83" y="561.44" width="13.92" height="13.92" fill="#26828e"/><rect x="272.46" y="561.44" width="13.92" height="13.92" fill="#26828e"/><rect x="286.08" y="561.44" width="13.92" height="13.92" fill="#2f6b8e"/><rect x="177.10" y="575.07" width="13.92" height="13.92" fill="#1e9b8a"/><rect x="190.72" y="575.07" width="13.92" height="13.92" fill="#23888e"/><rect x="204.34" y="575.07" width="13.92" height="13.92" fill="#228d8d"/><rect x="217.97" y="575.07" width="13.92" height="13.92" fill="#20a486"/><rect x="231.59" y="575.07" width="13.92" height="13.92" fill="#20928c"/><rect x="245.21" y="575.07" width="13.92" height="13.92" fill="#26828e"/><rect x="258.83" y="575.07" width="13.92" height="13.92" fill="#28ae80"/><rect x="272.46" y="575.07" width="13.92" height="13.92" fill="#23888e"/><rect x="286.08" y="575.07" width="13.92" height="13.92" fill="#23888e"/><rect x="177.10" y="588.69" width="13.92" height="13.92" fill="#1fa088"/><rect x="190.72" y="588.69" width="13.92" height="13.92" fill="#228d8d"/><rect x="204.34" y="588.69" width="13.92" height="13.92" fill="#228d8d"/><rect x="217.97" y="588.69" width="13.92" height="13.92" fill="#23888e"/><rect x="231.59" y="588.69" width="13.92" height="13.92" fill="#1f968b"/><rect x="245.21" y="588.69" width="13.92" height="13.92" fill="#228d8d"/><rect x="258.83" y="588.69" width="13.92" height="13.92" fill="#20928c"/><rect x="272.46" y="588.69" width="13.92" height="13.92" fill="#26828e"/><rect x="286.08" y="588.69" width="13.92" height="13.92" fill="#28ae80"/><rect x="177.10" y="602.31" width="13.92" height="13.92" fill="#1fa088"/><rect x="190.72" y="602.31" width="13.92" height="13.92" fill="#1fa088"/><rect x="204.34" y="602.31" width="13.92" height="13.92" fill="#23a983"/><rect x="217.97" y="602.31" width="13.92" height="13.92" fill="#23888e"/><rect x="231.59" y="602.31" width="13.92" height="13.92" fill="#1f968b"/><rect x="245.21" y="602.31" width="13.92" height="13.92" fill="#20928c"/><rect x="258.83" y="602.31" width="13.92" height="13.92" fill="#20928c"/><rect x="272.46" y="602.31" width="13.92" height="13.92" fill="#20928c"/><rect x="286.08" y="602.31" width="13.92" height="13.92" fill="#20a486"/><rect x="177.10" y="615.93" width="13.92" height="13.92" fill="#20a486"/><rect x="190.72" y="615.93" width="13.92" height="13.92" fill="#1f968b"/><rect x="204.34" y="615.93" width="13.92" height="13.92" fill="#1fa088"/><rect x="217.97" y="615.93" width="13.92" height="13.92" fill="#23a983"/><rect x="231.59" y="615.93" width="13.92" height="13.92" fill="#20a486"/><rect x="245.21" y="615.93" width="13.92" height="13.92" fill="#277e8e"/><rect x="258.83" y="615.93" width="13.92" height="13.92" fill="#23a983"/><rect x="272.46" y="615.93" width="13.92" height="13.92" fill="#1e9b8a"/><rect x="286.08" y="615.93" width="13.92" height="13.92" fill="#28ae80"/><rect x="177.10" y="629.56" width="13.92" height="13.92" fill="#44bf70"/><rect x="190.72" y="629.56" width="13.92" height="13.92" fill="#44bf70"/><rect x="204.34" y="629.56" width="13.92" height="13.92" fill="#1e9b8a"/><rect x="217.97" y="629.56" width="13.92" height="13.92" fill="#20a486"/><rect x="231.59" y="629.56" width="13.92" height="13.92" fill="#4ec36b"/><rect x="245.21" y="629.56" width="13.92" height="13.92" fill="#95d840"/><rect x="258.83" y="629.56" width="13.92" height="13.92" fill="#63cb5f"/><rect x="272.46" y="629.56" width="13.92" height="13.92" fill="#3bbb75"/><rect x="286.08" y="629.56" width="13.92" height="13.92" fill="#86d549"/><rect x="177.10" y="643.18" width="13.92" height="13.92" fill="#d8e219"/><rect x="190.72" y="643.18" width="13.92" height="13.92" fill="#86d549"/><rect x="204.34" y="643.18" width="13.92" height="13.92" fill="#63cb5f"/><rect x="217.97" y="643.18" width="13.92" height="13.92" fill="#4ec36b"/><rect x="231.59" y="643.18" width="13.92" height="13.92" fill="#58c765"/><rect x="245.21" y="643.18" width="13.92" height="13.92" fill="#4ec36b"/><rect x="258.83" y="643.18" width="13.92" height="13.92" fill="#6ece58"/><rect x="272.46" y="643.18" width="13.92" height="13.92" fill="#6ece58"/><rect x="286.08" y="643.18" width="13.92" height="13.92" fill="#95d840"/></g>
<rect x="177.10" y="534.20" width="122.60" height="122.60" fill="none" stroke="#000" stroke-width="2.3"/>
<line x1="211.16" y1="657.80" x2="211.16" y2="666.50" stroke="#000" stroke-width="2.2"/><line x1="238.40" y1="657.80" x2="238.40" y2="666.50" stroke="#000" stroke-width="2.2"/><line x1="265.64" y1="657.80" x2="265.64" y2="666.50" stroke="#000" stroke-width="2.2"/><g shape-rendering="crispEdges"><rect x="304.00" y="534.20" width="13.92" height="13.92" fill="#2f6b8e"/><rect x="317.62" y="534.20" width="13.92" height="13.92" fill="#28ae80"/><rect x="331.24" y="534.20" width="13.92" height="13.92" fill="#2eb37c"/><rect x="344.87" y="534.20" width="13.92" height="13.92" fill="#20a486"/><rect x="358.49" y="534.20" width="13.92" height="13.92" fill="#44bf70"/><rect x="372.11" y="534.20" width="13.92" height="13.92" fill="#63cb5f"/><rect x="385.73" y="534.20" width="13.92" height="13.92" fill="#3bbb75"/><rect x="399.36" y="534.20" width="13.92" height="13.92" fill="#23a983"/><rect x="412.98" y="534.20" width="13.92" height="13.92" fill="#2cb17e"/><rect x="304.00" y="547.82" width="13.92" height="13.92" fill="#2b748e"/><rect x="317.62" y="547.82" width="13.92" height="13.92" fill="#2b748e"/><rect x="331.24" y="547.82" width="13.92" height="13.92" fill="#228d8d"/><rect x="344.87" y="547.82" width="13.92" height="13.92" fill="#228d8d"/><rect x="358.49" y="547.82" width="13.92" height="13.92" fill="#1f968b"/><rect x="372.11" y="547.82" width="13.92" height="13.92" fill="#2cb17e"/><rect x="385.73" y="547.82" width="13.92" height="13.92" fill="#1e9b8a"/><rect x="399.36" y="547.82" width="13.92" height="13.92" fill="#2cb17e"/><rect x="412.98" y="547.82" width="13.92" height="13.92" fill="#20a486"/><rect x="304.00" y="561.44" width="13.92" height="13.92" fill="#414487"/><rect x="317.62" y="561.44" width="13.92" height="13.92" fill="#2b748e"/><rect x="331.24" y="561.44" width="13.92" height="13.92" fill="#2d708e"/><rect x="344.87" y="561.44" width="13.92" height="13.92" fill="#1f968b"/><rect x="358.49" y="561.44" width="13.92" height="13.92" fill="#26828e"/><rect x="372.11" y="561.44" width="13.92" height="13.92" fill="#2cb17e"/><rect x="385.73" y="561.44" width="13.92" height="13.92" fill="#2cb17e"/><rect x="399.36" y="561.44" width="13.92" height="13.92" fill="#32b67a"/><rect x="412.98" y="561.44" width="13.92" height="13.92" fill="#6ece58"/><rect x="304.00" y="575.07" width="13.92" height="13.92" fill="#31668e"/><rect x="317.62" y="575.07" width="13.92" height="13.92" fill="#2d708e"/><rect x="331.24" y="575.07" width="13.92" height="13.92" fill="#23888e"/><rect x="344.87" y="575.07" width="13.92" height="13.92" fill="#228d8d"/><rect x="358.49" y="575.07" width="13.92" height="13.92" fill="#2cb17e"/><rect x="372.11" y="575.07" width="13.92" height="13.92" fill="#20a486"/><rect x="385.73" y="575.07" width="13.92" height="13.92" fill="#20a486"/><rect x="399.36" y="575.07" width="13.92" height="13.92" fill="#2cb17e"/><rect x="412.98" y="575.07" width="13.92" height="13.92" fill="#20a486"/><rect x="304.00" y="588.69" width="13.92" height="13.92" fill="#38588c"/><rect x="317.62" y="588.69" width="13.92" height="13.92" fill="#2f6b8e"/><rect x="331.24" y="588.69" width="13.92" height="13.92" fill="#277e8e"/><rect x="344.87" y="588.69" width="13.92" height="13.92" fill="#277e8e"/><rect x="358.49" y="588.69" width="13.92" height="13.92" fill="#3bbb75"/><rect x="372.11" y="588.69" width="13.92" height="13.92" fill="#1fa088"/><rect x="385.73" y="588.69" width="13.92" height="13.92" fill="#44bf70"/><rect x="399.36" y="588.69" width="13.92" height="13.92" fill="#44bf70"/><rect x="412.98" y="588.69" width="13.92" height="13.92" fill="#2cb17e"/><rect x="304.00" y="602.31" width="13.92" height="13.92" fill="#38588c"/><rect x="317.62" y="602.31" width="13.92" height="13.92" fill="#2f6b8e"/><rect x="331.24" y="602.31" width="13.92" height="13.92" fill="#2d708e"/><rect x="344.87" y="602.31" width="13.92" height="13.92" fill="#29798e"/><rect x="358.49" y="602.31" width="13.92" height="13.92" fill="#20928c"/><rect x="372.11" y="602.31" width="13.92" height="13.92" fill="#1e9b8a"/><rect x="385.73" y="602.31" width="13.92" height="13.92" fill="#1e9b8a"/><rect x="399.36" y="602.31" width="13.92" height="13.92" fill="#58c765"/><rect x="412.98" y="602.31" width="13.92" height="13.92" fill="#58c765"/><rect x="304.00" y="615.93" width="13.92" height="13.92" fill="#414487"/><rect x="317.62" y="615.93" width="13.92" height="13.92" fill="#31668e"/><rect x="331.24" y="615.93" width="13.92" height="13.92" fill="#3c4f8a"/><rect x="344.87" y="615.93" width="13.92" height="13.92" fill="#20928c"/><rect x="358.49" y="615.93" width="13.92" height="13.92" fill="#20a486"/><rect x="372.11" y="615.93" width="13.92" height="13.92" fill="#1fa088"/><rect x="385.73" y="615.93" width="13.92" height="13.92" fill="#2eb37c"/><rect x="399.36" y="615.93" width="13.92" height="13.92" fill="#23a983"/><rect x="412.98" y="615.93" width="13.92" height="13.92" fill="#4ec36b"/><rect x="304.00" y="629.56" width="13.92" height="13.92" fill="#443a83"/><rect x="317.62" y="629.56" width="13.92" height="13.92" fill="#26828e"/><rect x="331.24" y="629.56" width="13.92" height="13.92" fill="#3e4989"/><rect x="344.87" y="629.56" width="13.92" height="13.92" fill="#2b748e"/><rect x="358.49" y="629.56" width="13.92" height="13.92" fill="#26828e"/><rect x="372.11" y="629.56" width="13.92" height="13.92" fill="#1e9b8a"/><rect x="385.73" y="629.56" width="13.92" height="13.92" fill="#20a486"/><rect x="399.36" y="629.56" width="13.92" height="13.92" fill="#20a486"/><rect x="412.98" y="629.56" width="13.92" height="13.92" fill="#44bf70"/><rect x="304.00" y="643.18" width="13.92" height="13.92" fill="#481d6f"/><rect x="317.62" y="643.18" width="13.92" height="13.92" fill="#2f6b8e"/><rect x="331.24" y="643.18" width="13.92" height="13.92" fill="#23888e"/><rect x="344.87" y="643.18" width="13.92" height="13.92" fill="#2b748e"/><rect x="358.49" y="643.18" width="13.92" height="13.92" fill="#23888e"/><rect x="372.11" y="643.18" width="13.92" height="13.92" fill="#20a486"/><rect x="385.73" y="643.18" width="13.92" height="13.92" fill="#2eb37c"/><rect x="399.36" y="643.18" width="13.92" height="13.92" fill="#3bbb75"/><rect x="412.98" y="643.18" width="13.92" height="13.92" fill="#58c765"/></g>
<rect x="304.00" y="534.20" width="122.60" height="122.60" fill="none" stroke="#000" stroke-width="2.3"/>
<line x1="338.06" y1="657.80" x2="338.06" y2="666.50" stroke="#000" stroke-width="2.2"/><line x1="365.30" y1="657.80" x2="365.30" y2="666.50" stroke="#000" stroke-width="2.2"/><line x1="392.54" y1="657.80" x2="392.54" y2="666.50" stroke="#000" stroke-width="2.2"/><g shape-rendering="crispEdges"><rect x="430.90" y="534.20" width="13.92" height="13.92" fill="#26828e"/><rect x="444.52" y="534.20" width="13.92" height="13.92" fill="#277e8e"/><rect x="458.14" y="534.20" width="13.92" height="13.92" fill="#20928c"/><rect x="471.77" y="534.20" width="13.92" height="13.92" fill="#23a983"/><rect x="485.39" y="534.20" width="13.92" height="13.92" fill="#228d8d"/><rect x="499.01" y="534.20" width="13.92" height="13.92" fill="#20928c"/><rect x="512.63" y="534.20" width="13.92" height="13.92" fill="#3bbb75"/><rect x="526.26" y="534.20" width="13.92" height="13.92" fill="#20a486"/><rect x="539.88" y="534.20" width="13.92" height="13.92" fill="#2cb17e"/><rect x="430.90" y="547.82" width="13.92" height="13.92" fill="#228d8d"/><rect x="444.52" y="547.82" width="13.92" height="13.92" fill="#277e8e"/><rect x="458.14" y="547.82" width="13.92" height="13.92" fill="#20a486"/><rect x="471.77" y="547.82" width="13.92" height="13.92" fill="#228d8d"/><rect x="485.39" y="547.82" width="13.92" height="13.92" fill="#20928c"/><rect x="499.01" y="547.82" width="13.92" height="13.92" fill="#2f6b8e"/><rect x="512.63" y="547.82" width="13.92" height="13.92" fill="#23a983"/><rect x="526.26" y="547.82" width="13.92" height="13.92" fill="#63cb5f"/><rect x="539.88" y="547.82" width="13.92" height="13.92" fill="#7ad151"/><rect x="430.90" y="561.44" width="13.92" height="13.92" fill="#228d8d"/><rect x="444.52" y="561.44" width="13.92" height="13.92" fill="#26828e"/><rect x="458.14" y="561.44" width="13.92" height="13.92" fill="#1f968b"/><rect x="471.77" y="561.44" width="13.92" height="13.92" fill="#23888e"/><rect x="485.39" y="561.44" width="13.92" height="13.92" fill="#2b748e"/><rect x="499.01" y="561.44" width="13.92" height="13.92" fill="#1f968b"/><rect x="512.63" y="561.44" width="13.92" height="13.92" fill="#2cb17e"/><rect x="526.26" y="561.44" width="13.92" height="13.92" fill="#2cb17e"/><rect x="539.88" y="561.44" width="13.92" height="13.92" fill="#28ae80"/><rect x="430.90" y="575.07" width="13.92" height="13.92" fill="#2f6b8e"/><rect x="444.52" y="575.07" width="13.92" height="13.92" fill="#29798e"/><rect x="458.14" y="575.07" width="13.92" height="13.92" fill="#29798e"/><rect x="471.77" y="575.07" width="13.92" height="13.92" fill="#228d8d"/><rect x="485.39" y="575.07" width="13.92" height="13.92" fill="#277e8e"/><rect x="499.01" y="575.07" width="13.92" height="13.92" fill="#20a486"/><rect x="512.63" y="575.07" width="13.92" height="13.92" fill="#1fa088"/><rect x="526.26" y="575.07" width="13.92" height="13.92" fill="#58c765"/><rect x="539.88" y="575.07" width="13.92" height="13.92" fill="#4ec36b"/><rect x="430.90" y="588.69" width="13.92" height="13.92" fill="#29798e"/><rect x="444.52" y="588.69" width="13.92" height="13.92" fill="#23888e"/><rect x="458.14" y="588.69" width="13.92" height="13.92" fill="#23888e"/><rect x="471.77" y="588.69" width="13.92" height="13.92" fill="#228d8d"/><rect x="485.39" y="588.69" width="13.92" height="13.92" fill="#2eb37c"/><rect x="499.01" y="588.69" width="13.92" height="13.92" fill="#32b67a"/><rect x="512.63" y="588.69" width="13.92" height="13.92" fill="#1fa088"/><rect x="526.26" y="588.69" width="13.92" height="13.92" fill="#3bbb75"/><rect x="539.88" y="588.69" width="13.92" height="13.92" fill="#2cb17e"/><rect x="430.90" y="602.31" width="13.92" height="13.92" fill="#29798e"/><rect x="444.52" y="602.31" width="13.92" height="13.92" fill="#26828e"/><rect x="458.14" y="602.31" width="13.92" height="13.92" fill="#23a983"/><rect x="471.77" y="602.31" width="13.92" height="13.92" fill="#228d8d"/><rect x="485.39" y="602.31" width="13.92" height="13.92" fill="#2eb37c"/><rect x="499.01" y="602.31" width="13.92" height="13.92" fill="#20928c"/><rect x="512.63" y="602.31" width="13.92" height="13.92" fill="#23888e"/><rect x="526.26" y="602.31" width="13.92" height="13.92" fill="#1e9b8a"/><rect x="539.88" y="602.31" width="13.92" height="13.92" fill="#a2da37"/><rect x="430.90" y="615.93" width="13.92" height="13.92" fill="#31668e"/><rect x="444.52" y="615.93" width="13.92" height="13.92" fill="#31668e"/><rect x="458.14" y="615.93" width="13.92" height="13.92" fill="#2f6b8e"/><rect x="471.77" y="615.93" width="13.92" height="13.92" fill="#228d8d"/><rect x="485.39" y="615.93" width="13.92" height="13.92" fill="#28ae80"/><rect x="499.01" y="615.93" width="13.92" height="13.92" fill="#1e9b8a"/><rect x="512.63" y="615.93" width="13.92" height="13.92" fill="#2eb37c"/><rect x="526.26" y="615.93" width="13.92" height="13.92" fill="#44bf70"/><rect x="539.88" y="615.93" width="13.92" height="13.92" fill="#20a486"/><rect x="430.90" y="629.56" width="13.92" height="13.92" fill="#277e8e"/><rect x="444.52" y="629.56" width="13.92" height="13.92" fill="#1f968b"/><rect x="458.14" y="629.56" width="13.92" height="13.92" fill="#1f968b"/><rect x="471.77" y="629.56" width="13.92" height="13.92" fill="#1f968b"/><rect x="485.39" y="629.56" width="13.92" height="13.92" fill="#277e8e"/><rect x="499.01" y="629.56" width="13.92" height="13.92" fill="#44bf70"/><rect x="512.63" y="629.56" width="13.92" height="13.92" fill="#7ad151"/><rect x="526.26" y="629.56" width="13.92" height="13.92" fill="#2cb17e"/><rect x="539.88" y="629.56" width="13.92" height="13.92" fill="#4ec36b"/><rect x="430.90" y="643.18" width="13.92" height="13.92" fill="#2d708e"/><rect x="444.52" y="643.18" width="13.92" height="13.92" fill="#23888e"/><rect x="458.14" y="643.18" width="13.92" height="13.92" fill="#2d708e"/><rect x="471.77" y="643.18" width="13.92" height="13.92" fill="#1f968b"/><rect x="485.39" y="643.18" width="13.92" height="13.92" fill="#1f968b"/><rect x="499.01" y="643.18" width="13.92" height="13.92" fill="#1fa088"/><rect x="512.63" y="643.18" width="13.92" height="13.92" fill="#1f968b"/><rect x="526.26" y="643.18" width="13.92" height="13.92" fill="#2eb37c"/><rect x="539.88" y="643.18" width="13.92" height="13.92" fill="#44bf70"/></g>
<rect x="430.90" y="534.20" width="122.60" height="122.60" fill="none" stroke="#000" stroke-width="2.3"/>
<line x1="464.96" y1="657.80" x2="464.96" y2="666.50" stroke="#000" stroke-width="2.2"/><line x1="492.20" y1="657.80" x2="492.20" y2="666.50" stroke="#000" stroke-width="2.2"/><line x1="519.44" y1="657.80" x2="519.44" y2="666.50" stroke="#000" stroke-width="2.2"/><rect x="559.40" y="534.20" width="12.00" height="122.60" fill="url(#vir)" stroke="#000" stroke-width="2.3"/>
<g><text class="dserif" x="84.21" y="18.02" font-size="16.94">(</text><text class="dserif" x="91.00" y="17.77" font-size="15.24" font-style="italic">τ</text><text class="dserif" x="100.53" y="21.26" font-size="12.65">d</text><text class="dserif" x="110.11" y="18.23" font-size="17.96">,</text><text class="dserif" x="117.00" y="17.77" font-size="15.24" font-style="italic">τ</text><text class="dserif" x="125.35" y="12.29" font-size="15.20">−</text><text class="dserif" x="126.59" y="23.15" font-size="12.12">w</text><text class="dserif" x="138.88" y="18.02" font-size="16.94">)</text></g>
<g><text class="dserif" x="210.80" y="20.17" font-size="17.27">(</text><text class="dserif" x="217.67" y="19.68" font-size="14.86" font-style="italic">τ</text><text class="dserif" x="227.21" y="23.46" font-size="12.72">0</text><text class="dserif" x="236.51" y="20.18" font-size="17.55">,</text><text class="dserif" x="242.94" y="19.53" font-size="14.77" font-style="italic">u</text><text class="dserif" x="252.11" y="23.27" font-size="12.00">c</text><text class="dserif" x="259.57" y="20.17" font-size="17.27">)</text></g>
<g><text class="dserif" x="337.76" y="16.82" font-size="16.94">(</text><text class="dserif" x="344.36" y="16.27" font-size="15.05" font-style="italic">τ</text><text class="dserif" x="353.57" y="10.44" font-size="14.08">−</text><text class="dserif" x="354.77" y="22.55" font-size="11.73">v</text><text class="dserif" x="361.18" y="22.85" font-size="11.62">1</text><text class="dserif" x="370.47" y="17.45" font-size="16.33">,</text><text class="dserif" x="377.26" y="16.17" font-size="15.05" font-style="italic">τ</text><text class="dserif" x="386.95" y="9.65" font-size="11.75">+</text><text class="dserif" x="387.65" y="21.45" font-size="11.15">w</text><text class="dserif" x="398.88" y="17.02" font-size="16.94">)</text></g>
<g><text class="dserif" x="463.86" y="16.82" font-size="16.94">(</text><text class="dserif" x="471.28" y="16.57" font-size="15.62" font-style="italic">τ</text><text class="dserif" x="480.25" y="10.59" font-size="14.24">−</text><text class="dserif" x="481.52" y="22.85" font-size="11.73">v</text><text class="dserif" x="488.51" y="22.85" font-size="12.03">2</text><text class="dserif" x="496.46" y="17.58" font-size="17.55">,</text><text class="dserif" x="503.08" y="16.23" font-size="14.95" font-style="italic">u</text><text class="dserif" x="512.50" y="19.75" font-size="12.50">v</text><text class="dserif" x="520.88" y="16.82" font-size="16.94">)</text></g>
<text class="sans" x="35.3" y="70.21" text-anchor="end">+5%</text><text class="sans" x="35.3" y="97.45" text-anchor="end">0</text><text class="sans" x="35.3" y="124.69" text-anchor="end">-5%</text><text class="sans" x="35.3" y="196.21" text-anchor="end">+5%</text><text class="sans" x="35.3" y="223.45" text-anchor="end">0</text><text class="sans" x="35.3" y="250.69" text-anchor="end">-5%</text><text class="sans" x="35.3" y="322.21" text-anchor="end">+5%</text><text class="sans" x="35.3" y="349.45" text-anchor="end">0</text><text class="sans" x="35.3" y="376.69" text-anchor="end">-5%</text><text class="sans" x="35.3" y="448.21" text-anchor="end">+5%</text><text class="sans" x="35.3" y="475.45" text-anchor="end">0</text><text class="sans" x="35.3" y="502.69" text-anchor="end">-5%</text><text class="sans" x="35.3" y="574.21" text-anchor="end">+5%</text><text class="sans" x="35.3" y="601.45" text-anchor="end">0</text><text class="sans" x="35.3" y="628.69" text-anchor="end">-5%</text>
<text class="sans" x="84.26" y="684.4" text-anchor="middle">-5%</text><text class="sans" x="111.50" y="684.4" text-anchor="middle">0</text><text class="sans" x="138.74" y="684.4" text-anchor="middle">+5%</text><text class="sans" x="211.16" y="684.4" text-anchor="middle">-5%</text><text class="sans" x="238.40" y="684.4" text-anchor="middle">0</text><text class="sans" x="265.64" y="684.4" text-anchor="middle">+5%</text><text class="sans" x="338.06" y="684.4" text-anchor="middle">-5%</text><text class="sans" x="365.30" y="684.4" text-anchor="middle">0</text><text class="sans" x="392.54" y="684.4" text-anchor="middle">+5%</text><text class="sans" x="464.96" y="684.4" text-anchor="middle">-5%</text><text class="sans" x="492.20" y="684.4" text-anchor="middle">0</text><text class="sans" x="519.44" y="684.4" text-anchor="middle">+5%</text>
<line x1="572.40" y1="30.20" x2="581.70" y2="30.20" stroke="#000" stroke-width="2.2"/><text class="serif" x="591.6" y="36.10" font-size="16.4" textLength="17.0" lengthAdjust="spacingAndGlyphs">20</text><line x1="572.40" y1="91.50" x2="581.70" y2="91.50" stroke="#000" stroke-width="2.2"/><text class="serif" x="591.6" y="97.40" font-size="16.4" textLength="17.0" lengthAdjust="spacingAndGlyphs">10</text><line x1="572.40" y1="152.80" x2="581.70" y2="152.80" stroke="#000" stroke-width="2.2"/><text class="serif" x="591.6" y="158.70" font-size="16.4" textLength="8.6" lengthAdjust="spacingAndGlyphs">0</text><text class="dcond" font-size="13.1" text-anchor="middle" textLength="103.2" lengthAdjust="spacingAndGlyphs" transform="translate(628.00 91.50) rotate(-90)">Transient time [s]</text>
<line x1="572.40" y1="180.72" x2="581.70" y2="180.72" stroke="#000" stroke-width="2.2"/><text class="serif" x="591.6" y="186.62" font-size="16.4" textLength="8.6" lengthAdjust="spacingAndGlyphs">9</text><line x1="572.40" y1="229.76" x2="581.70" y2="229.76" stroke="#000" stroke-width="2.2"/><text class="serif" x="591.6" y="235.66" font-size="16.4" textLength="8.6" lengthAdjust="spacingAndGlyphs">7</text><line x1="572.40" y1="278.80" x2="581.70" y2="278.80" stroke="#000" stroke-width="2.2"/><text class="serif" x="591.6" y="284.70" font-size="16.4" textLength="8.6" lengthAdjust="spacingAndGlyphs">5</text><text class="dcond" font-size="13.1" text-anchor="middle" textLength="94.9" lengthAdjust="spacingAndGlyphs" transform="translate(619.90 217.50) rotate(-90)">Dom. freq. [Hz]</text>
<line x1="572.40" y1="312.85" x2="581.70" y2="312.85" stroke="#000" stroke-width="2.2"/><text class="serif" x="591.6" y="318.75" font-size="16.4" textLength="30.9" lengthAdjust="spacingAndGlyphs">0.36</text><line x1="572.40" y1="358.82" x2="581.70" y2="358.82" stroke="#000" stroke-width="2.2"/><text class="serif" x="591.6" y="364.72" font-size="16.4" textLength="30.9" lengthAdjust="spacingAndGlyphs">0.33</text><line x1="572.40" y1="404.80" x2="581.70" y2="404.80" stroke="#000" stroke-width="2.2"/><text class="serif" x="591.6" y="410.70" font-size="16.4" textLength="30.9" lengthAdjust="spacingAndGlyphs">0.30</text><text class="dcond" font-size="13.1" text-anchor="middle" textLength="103.1" lengthAdjust="spacingAndGlyphs" transform="translate(641.90 343.50) rotate(-90)">Excitable gap [%]</text>
<line x1="572.40" y1="449.07" x2="581.70" y2="449.07" stroke="#000" stroke-width="2.2"/><text class="serif" x="591.6" y="454.97" font-size="16.4" textLength="30.9" lengthAdjust="spacingAndGlyphs">0.54</text><line x1="572.40" y1="489.93" x2="581.70" y2="489.93" stroke="#000" stroke-width="2.2"/><text class="serif" x="591.6" y="495.83" font-size="16.4" textLength="30.9" lengthAdjust="spacingAndGlyphs">0.52</text><line x1="572.40" y1="530.80" x2="581.70" y2="530.80" stroke="#000" stroke-width="2.2"/><text class="serif" x="591.6" y="536.70" font-size="16.4" textLength="30.9" lengthAdjust="spacingAndGlyphs">0.50</text><text class="dcond" font-size="13.1" text-anchor="middle" textLength="31.8" lengthAdjust="spacingAndGlyphs" transform="translate(641.90 469.50) rotate(-90)">pECG</text>
<line x1="572.40" y1="575.07" x2="581.70" y2="575.07" stroke="#000" stroke-width="2.2"/><text class="serif" x="591.6" y="580.97" font-size="16.4" textLength="17.0" lengthAdjust="spacingAndGlyphs">19</text><line x1="572.40" y1="615.93" x2="581.70" y2="615.93" stroke="#000" stroke-width="2.2"/><text class="serif" x="591.6" y="621.83" font-size="16.4" textLength="17.0" lengthAdjust="spacingAndGlyphs">17</text><line x1="572.40" y1="656.80" x2="581.70" y2="656.80" stroke="#000" stroke-width="2.2"/><text class="serif" x="591.6" y="662.70" font-size="16.4" textLength="17.0" lengthAdjust="spacingAndGlyphs">15</text><text class="dcond" font-size="13.1" text-anchor="middle" textLength="24.0" lengthAdjust="spacingAndGlyphs" transform="translate(628.30 595.50) rotate(-90)">NPS</text>
<text class="serif" x="560.4" y="23.5" font-size="17.5">×</text><text class="serif" x="572.6" y="23.4" font-size="16.4" textLength="17.2" lengthAdjust="spacingAndGlyphs">10</text><text class="serif" x="589.5" y="17.0" font-size="13.8">3</text>
</svg>
</body></html>
